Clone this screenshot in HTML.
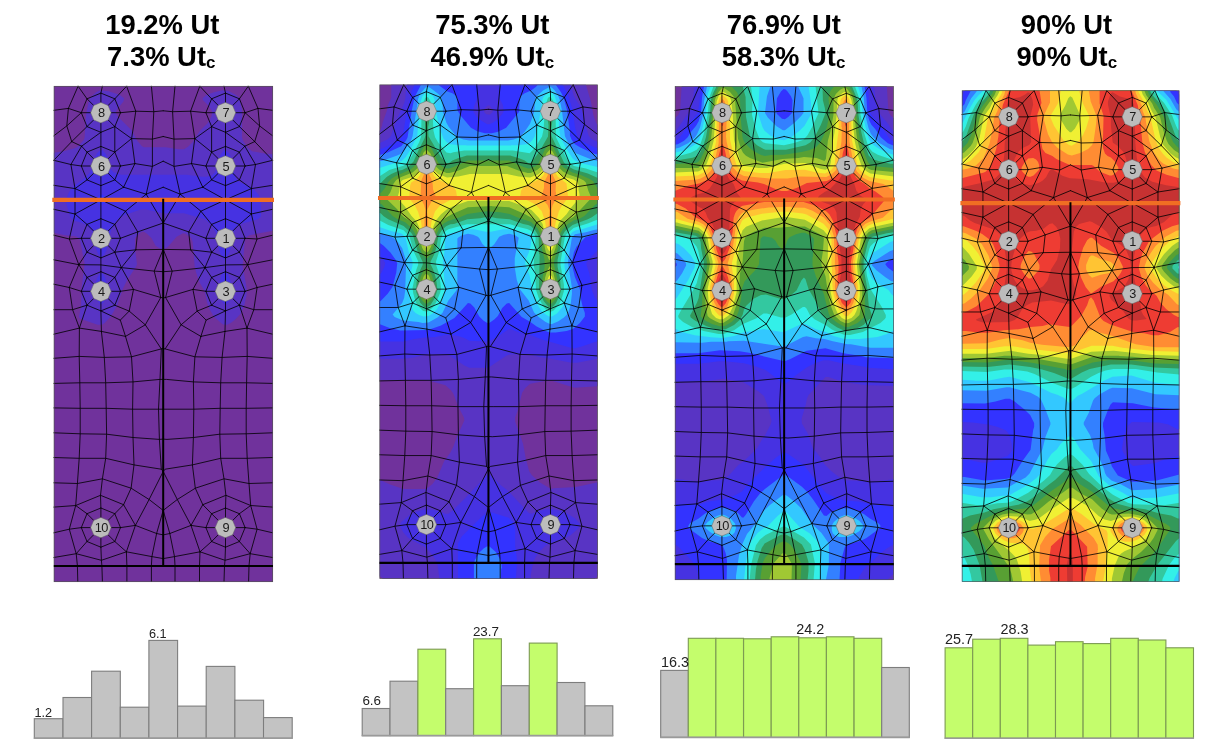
<!DOCTYPE html>
<html lang="en"><head><meta charset="utf-8"><title>Ut</title>
<style>html,body{margin:0;padding:0;background:#fff}svg{display:block}text{font-family:"Liberation Sans",Arial,sans-serif}.t{font-weight:bold;font-size:27.4px;text-anchor:middle}.s{font-size:17px}.n{font-size:12.8px;text-anchor:middle;fill:#1a1a1a;letter-spacing:-.7px}.v{font-size:12.6px;fill:#222}</style></head><body>
<svg width="1231" height="742" viewBox="0 0 1231 742">
<rect width="1231" height="742" fill="#fff"/>
<g transform="translate(53.8 86) scale(1.0000 1.0000)">
<clipPath id="cp0"><rect width="219.2" height="496"/></clipPath><g clip-path="url(#cp0)"><rect width="219.2" height="496" fill="#70329c"/><path d="M42.2 6.2 36.2 11.8 35.2 14.2 32.2 28.8 30.8 51.8 29.8 54.2 23.8 60.8 20.8 62.2 9.8 65.2 -0.2 66.8 -0.2 146.8 10.8 149.2 21.2 150.2 23.8 151.2 26.2 154.2 30.8 177.8 27.8 202.2 27.2 219.8 25.2 231.2 27.8 233.2 43.8 238.8 48.2 238.8 51.2 236.8 56.8 230.8 63.2 219.8 68.8 203.2 73.2 194.2 82.2 180.8 83.2 178.2 81.2 162.2 81.2 152.2 85.8 147.2 88.2 145.8 90.2 145.8 93.2 147.8 97.8 152.2 101.8 159.8 107.2 163.2 110.2 163.2 114.2 160.8 122.8 150.8 129.2 147.2 131.8 147.8 137.2 151.8 138.8 155.8 140.8 179.8 142.2 186.2 145.2 195.2 150.8 205.2 153.2 216.2 155.8 223.2 160.2 230.8 168.2 237.8 170.2 238.8 173.2 238.8 177.2 236.8 181.2 233.8 186.8 227.8 190.8 218.2 192.8 209.2 192.8 201.8 188.8 179.8 191.2 153.2 193.2 150.8 195.8 149.2 219.2 144.8 219.2 68.2 211.8 67.8 198.2 65.2 193.8 61.8 189.2 54.8 188.2 51.2 188.2 24.8 186.2 13.8 184.8 11.2 181.8 8.8 174.2 4.8 168.8 4.2 160.2 6.2 153.2 8.8 149.2 11.8 148.8 12.8 149.2 14.2 155.2 20.2 158.2 25.2 157.8 30.2 153.8 37.2 146.2 44.8 138.8 56.2 134.2 60.8 130.2 63.2 124.8 63.2 111.8 61.2 90.2 61.2 88.2 60.2 83.8 55.2 77.8 44.2 64.2 30.8 62.2 27.2 62.2 25.8 63.8 22.8 69.8 15.2 70.2 12.2 65.8 8.8 54.8 5.2 46.2 4.2Z" fill="#5834c4" fill-rule="evenodd"/><path d="M47.8 186.8 45.8 187.8 43.2 192.2 40.8 202.8 41.2 209.2 42.8 213.8 46.2 218.2 47.8 218.2 50.2 215.8 52.8 209.8 53.8 204.2 51.8 192.8 49.8 188.8ZM170.2 184.8 167.8 188.8 165.8 195.2 165.2 206.8 167.8 214.8 170.2 217.8 172.2 218.2 174.2 216.8 176.2 213.2 177.8 208.2 178.2 203.2 177.2 196.8 175.2 190.2 173.2 186.2 171.8 184.8ZM12.2 113.2 12.8 118.8 16.8 131.8 20.8 134.8 27.8 136.8 33.2 139.2 37.8 143.8 40.8 152.8 40.8 156.2 42.2 162.8 44.2 167.8 46.8 170.8 48.2 170.8 50.8 168.2 52.8 164.2 57.2 144.2 60.2 138.2 63.2 134.2 67.2 130.8 70.2 129.2 86.2 123.8 91.2 123.2 109.2 127.2 130.2 127.2 151.2 133.2 158.2 139.8 161.8 145.8 163.8 153.2 163.8 157.2 165.2 164.2 167.2 169.2 169.2 172.2 170.8 173.2 173.2 171.2 175.8 165.8 177.2 160.2 178.8 148.8 181.8 142.2 184.2 139.8 187.8 137.8 204.2 133.2 207.2 130.2 207.2 115.2 205.2 109.8 203.2 106.8 198.2 101.8 192.8 98.8 185.8 96.2 182.8 93.2 180.8 88.8 178.8 76.8 176.8 70.2 175.2 67.2 172.2 64.2 170.2 64.2 166.8 68.2 164.2 75.2 163.2 81.8 161.2 86.2 158.2 89.2 153.2 90.8 148.2 90.8 132.8 88.8 67.2 88.8 59.8 86.2 56.8 83.2 55.2 80.2 54.2 73.8 52.2 68.2 48.8 64.2 46.2 64.2 43.2 67.2 41.2 71.2 37.8 83.2 35.2 87.8 31.2 91.8 19.2 100.8 15.2 106.2Z" fill="#4632e2" fill-rule="evenodd"/><path d="M167.2 113.8 168.8 115.8 171.2 116.8 174.2 114.8 174.2 113.8 172.2 112.2 169.8 112.2ZM46.2 108.8 42.2 112.2 41.8 114.8 45.2 118.2 48.2 118.8 53.8 114.2 53.8 112.8 48.8 108.8Z" fill="#3333ff" fill-rule="evenodd"/></g>
<path d="M24.3 0.2L33.2 12.8M194.5 0.2L185.6 12.8M24.3 0.2L14.6 22.4M194.5 0.2L204.2 22.4M48.6 0.2L47.1 7.1M170.2 0.2L171.7 7.1M72.8 0.2L61.0 12.8M146.0 0.2L157.8 12.8M72.8 0.2L82.0 25.2M146.0 0.2L136.8 25.2M97.6 0.2L100.0 25.7L98.6 53.1L98.6 80.4L92.4 108.2M121.2 0.2L118.8 25.7L120.2 53.1L120.2 80.4L126.4 108.2M0.0 24.3L14.6 22.4L27.5 26.7M218.8 24.3L204.2 22.4L191.3 26.7M14.6 22.4L13.0 39.9L17.9 55.6M204.2 22.4L205.8 39.9L200.9 55.6M27.5 26.7L13.0 39.9L0.0 49.8M191.3 26.7L205.8 39.9L218.8 49.8M17.9 55.6L33.2 40.6M200.9 55.6L185.6 40.6M17.9 55.6L0.0 74.3M200.9 55.6L218.8 74.3M17.9 55.6L27.8 60.2M200.9 55.6L191.0 60.2M27.8 60.2L47.1 46.3M191.0 60.2L171.7 46.3M27.8 60.2L33.2 66.1M191.0 60.2L185.6 66.1M27.8 60.2L17.1 78.5M191.0 60.2L201.7 78.5M47.1 46.3L47.1 60.4M171.7 46.3L171.7 60.4M61.0 40.6L61.0 66.1M157.8 40.6L157.8 66.1M61.0 40.6L77.8 52.6M157.8 40.6L141.0 52.6M77.8 52.6L82.0 25.2L66.7 26.7M141.0 52.6L136.8 25.2L152.1 26.7M82.0 25.2L100.0 25.7L109.4 24.8M136.8 25.2L118.8 25.7L109.4 24.8M77.8 52.6L98.6 53.1L109.4 50.5M141.0 52.6L120.2 53.1L109.4 50.5M77.8 52.6L61.0 66.1M141.0 52.6L157.8 66.1M77.8 52.6L81.1 77.6M141.0 52.6L137.7 77.6M0.0 74.3L17.1 78.5L27.5 80.0M218.8 74.3L201.7 78.5L191.3 80.0M17.1 78.5L21.2 102.6L21.2 128.0L15.5 153.0L25.0 178.7M201.7 78.5L197.6 102.6L197.6 128.0L203.3 153.0L193.8 178.7M0.0 99.3L21.2 102.6L33.2 93.9M218.8 99.3L197.6 102.6L185.6 93.9M21.2 102.6L47.1 113.8M197.6 102.6L171.7 113.8M47.1 99.6L47.1 113.8L47.1 132.7M171.7 99.6L171.7 113.8L171.7 132.7M47.1 113.8L69.8 101.2M171.7 113.8L149.0 101.2M69.8 101.2L61.0 93.9M149.0 101.2L157.8 93.9M69.8 101.2L81.1 77.6M149.0 101.2L137.7 77.6M69.8 101.2L92.4 108.2M149.0 101.2L126.4 108.2M66.7 80.0L81.1 77.6L98.6 80.4L109.4 75.2M152.1 80.0L137.7 77.6L120.2 80.4L109.4 75.2M92.4 108.2L109.4 101.2M126.4 108.2L109.4 101.2M92.4 108.2L71.7 125.2M126.4 108.2L147.1 125.2M92.4 108.2L109.4 137.0M126.4 108.2L109.4 137.0M47.1 113.8L71.7 125.2M171.7 113.8L147.1 125.2M47.1 113.8L21.2 128.0M171.7 113.8L197.6 128.0M0.0 123.3L21.2 128.0M218.8 123.3L197.6 128.0M61.0 138.4L71.7 125.2L83.9 145.9M157.8 138.4L147.1 125.2L134.9 145.9M21.2 128.0L33.2 138.4M197.6 128.0L185.6 138.4M0.0 149.2L15.5 153.0L27.5 152.3M218.8 149.2L203.3 153.0L191.3 152.3M0.0 173.8L25.0 178.7L47.1 178.9L67.6 181.6L100.4 185.1L109.4 185.7M218.8 173.8L193.8 178.7L171.7 178.9L151.2 181.6L118.4 185.1L109.4 185.7M25.0 178.7L33.2 166.2M193.8 178.7L185.6 166.2M25.0 178.7L33.2 191.4M193.8 178.7L185.6 191.4M25.0 178.7L15.5 201.5M193.8 178.7L203.3 201.5M47.1 171.9L47.1 178.9L47.1 185.7M171.7 171.9L171.7 178.9L171.7 185.7M67.6 181.6L61.0 166.2M151.2 181.6L157.8 166.2M67.6 181.6L61.0 191.4M151.2 181.6L157.8 191.4M67.6 181.6L82.0 163.8M151.2 181.6L136.8 163.8M67.6 181.6L79.7 203.4M151.2 181.6L139.1 203.4M61.0 166.2L82.0 163.8L109.4 163.4M157.8 166.2L136.8 163.8L109.4 163.4M82.0 163.8L83.9 145.9M136.8 163.8L134.9 145.9M66.7 152.3L83.9 145.9L109.4 137.0M152.1 152.3L134.9 145.9L109.4 137.0M109.4 163.4L100.4 185.1L107.0 211.5M109.4 163.4L118.4 185.1L111.8 211.5M0.0 198.2L15.5 201.5L27.5 205.3M218.8 198.2L203.3 201.5L191.3 205.3M15.5 201.5L18.8 223.7L25.6 242.1M203.3 201.5L200.0 223.7L193.2 242.1M0.0 223.7L18.8 223.7L33.2 219.2M218.8 223.7L200.0 223.7L185.6 219.2M33.2 219.2L25.6 242.1M185.6 219.2L193.2 242.1M0.0 248.2L25.6 242.1L47.6 245.4L71.7 250.4M218.8 248.2L193.2 242.1L171.2 245.4L147.1 250.4M47.1 224.9L47.6 245.4M171.7 224.9L171.2 245.4M47.1 224.9L66.5 234.1L71.7 250.4M171.7 224.9L152.3 234.1L147.1 250.4M75.4 225.1L66.5 234.1M143.4 225.1L152.3 234.1M61.0 219.2L75.4 225.1L91.5 238.8M157.8 219.2L143.4 225.1L127.3 238.8M75.4 225.1L79.7 203.4M143.4 225.1L139.1 203.4M66.7 205.3L79.7 203.4L107.0 211.5L109.4 211.9M152.1 205.3L139.1 203.4L111.8 211.5L109.4 211.9M107.0 211.5L91.5 238.8L71.7 250.4M111.8 211.5L127.3 238.8L147.1 250.4M91.5 238.8L107.5 262.9M127.3 238.8L111.3 262.9M25.6 242.1L25.4 270.4L26.0 296.8L26.4 322.3L26.4 347.8L25.4 372.3L23.6 397.5L21.9 419.5L15.5 443.2L22.4 467.7L23.6 479.7L24.0 495.6M193.2 242.1L193.4 270.4L192.8 296.8L192.4 322.3L192.4 347.8L193.4 372.3L195.2 397.5L196.9 419.5L203.3 443.2L196.4 467.7L195.2 479.7L194.8 495.6M47.6 245.4L50.5 271.4L51.9 296.8L52.4 322.3L52.8 348.2L51.9 372.3L48.6 392.8L46.7 409.3L47.1 422.0M171.2 245.4L168.3 271.4L166.9 296.8L166.4 322.3L166.0 348.2L166.9 372.3L170.2 392.8L172.1 409.3L171.7 422.0M71.7 250.4L77.7 270.8L79.2 295.9L78.8 323.2L79.2 351.5L80.2 378.9L77.3 402.2L69.8 418.7L61.0 427.7M147.1 250.4L141.1 270.8L139.6 295.9L140.0 323.2L139.6 351.5L138.6 378.9L141.5 402.2L149.0 418.7L157.8 427.7M107.5 262.9L106.2 293.4L104.7 323.2L105.6 353.4L107.5 383.2M109.4 385.5L95.3 413.5L81.6 439.4M109.4 385.5L123.5 413.5L137.2 439.4M0.0 272.3L25.4 270.4L50.5 271.4L77.7 270.8L107.5 262.9L109.4 262.5M218.8 272.3L193.4 270.4L168.3 271.4L141.1 270.8L111.3 262.9L109.4 262.5M0.0 297.4L26.0 296.8L51.9 296.8L79.2 295.9L106.2 293.4L109.4 293.4M218.8 297.4L192.8 296.8L166.9 296.8L139.6 295.9L112.6 293.4L109.4 293.4M0.0 321.9L26.4 322.3L52.4 322.3L78.8 323.2L104.7 323.2L109.4 323.2M218.8 321.9L192.4 322.3L166.4 322.3L140.0 323.2L114.1 323.2L109.4 323.2M0.0 346.8L26.4 347.8L52.8 348.2L79.2 351.5L105.6 353.4L109.4 353.1M218.8 346.8L192.4 347.8L166.0 348.2L139.6 351.5L113.2 353.4L109.4 353.1M0.0 371.5L25.4 372.3L51.9 372.3L80.2 378.9L107.5 383.2L109.4 385.5M218.8 371.5L193.4 372.3L166.9 372.3L138.6 378.9L111.3 383.2L109.4 385.5M0.0 396.8L23.6 397.5L48.6 392.8L77.3 402.2L95.3 413.5L109.4 424.4M218.8 396.8L195.2 397.5L170.2 392.8L141.5 402.2L123.5 413.5L109.4 424.4M0.0 421.1L21.9 419.5L46.7 409.3L69.8 418.7M218.8 421.1L196.9 419.5L172.1 409.3L149.0 418.7M21.9 419.5L33.2 427.7M196.9 419.5L185.6 427.7M69.8 418.7L81.6 439.4M149.0 418.7L137.2 439.4M109.4 424.4L102.8 447.5M109.4 424.4L116.0 447.5M0.0 446.8L15.5 443.2L27.5 441.6M218.8 446.8L203.3 443.2L191.3 441.6M0.0 471.5L22.4 467.7L47.6 474.3L72.6 465.8L98.1 470.6L109.4 472.6M218.8 471.5L196.4 467.7L171.2 474.3L146.2 465.8L120.7 470.6L109.4 472.6M22.4 467.7L33.2 455.5M196.4 467.7L185.6 455.5M47.1 461.2L47.6 474.3L48.1 479.7L48.6 495.6M171.7 461.2L171.2 474.3L170.7 479.7L170.2 495.6M72.6 465.8L61.0 455.5M146.2 465.8L157.8 455.5M72.6 465.8L81.6 439.4M146.2 465.8L137.2 439.4M72.6 465.8L73.1 479.7L73.1 495.6M146.2 465.8L145.7 479.7L145.7 495.6M66.7 441.6L81.6 439.4L102.8 447.5L109.4 448.9M152.1 441.6L137.2 439.4L116.0 447.5L109.4 448.9M102.8 447.5L98.1 470.6L97.6 479.7L97.6 495.6M116.0 447.5L120.7 470.6L121.2 479.7L121.2 495.6M66.7 26.7L61.0 40.6L47.1 46.3L33.2 40.6L27.5 26.7L33.2 12.8L47.1 7.1L61.0 12.8L66.7 26.7M56.9 26.7L66.7 26.7M54.0 33.6L61.0 40.6M47.1 36.5L47.1 46.3M40.2 33.6L33.2 40.6M37.3 26.7L27.5 26.7M40.2 19.8L33.2 12.8M47.1 16.9L47.1 7.1M54.0 19.8L61.0 12.8M66.7 80.0L61.0 93.9L47.1 99.6L33.2 93.9L27.5 80.0L33.2 66.1L47.1 60.4L61.0 66.1L66.7 80.0M56.9 80.0L66.7 80.0M54.0 86.9L61.0 93.9M47.1 89.8L47.1 99.6M40.2 86.9L33.2 93.9M37.3 80.0L27.5 80.0M40.2 73.1L33.2 66.1M47.1 70.2L47.1 60.4M54.0 73.1L61.0 66.1M66.7 152.3L61.0 166.2L47.1 171.9L33.2 166.2L27.5 152.3L33.2 138.4L47.1 132.7L61.0 138.4L66.7 152.3M56.9 152.3L66.7 152.3M54.0 159.2L61.0 166.2M47.1 162.1L47.1 171.9M40.2 159.2L33.2 166.2M37.3 152.3L27.5 152.3M40.2 145.4L33.2 138.4M47.1 142.5L47.1 132.7M54.0 145.4L61.0 138.4M66.7 205.3L61.0 219.2L47.1 224.9L33.2 219.2L27.5 205.3L33.2 191.4L47.1 185.7L61.0 191.4L66.7 205.3M56.9 205.3L66.7 205.3M54.0 212.2L61.0 219.2M47.1 215.1L47.1 224.9M40.2 212.2L33.2 219.2M37.3 205.3L27.5 205.3M40.2 198.4L33.2 191.4M47.1 195.5L47.1 185.7M54.0 198.4L61.0 191.4M66.7 441.6L61.0 455.5L47.1 461.2L33.2 455.5L27.5 441.6L33.2 427.7L47.1 422.0L61.0 427.7L66.7 441.6M56.9 441.6L66.7 441.6M54.0 448.5L61.0 455.5M47.1 451.4L47.1 461.2M40.2 448.5L33.2 455.5M37.3 441.6L27.5 441.6M40.2 434.7L33.2 427.7M47.1 431.8L47.1 422.0M54.0 434.7L61.0 427.7M191.3 26.7L185.6 40.6L171.7 46.3L157.8 40.6L152.1 26.7L157.8 12.8L171.7 7.1L185.6 12.8L191.3 26.7M181.5 26.7L191.3 26.7M178.6 33.6L185.6 40.6M171.7 36.5L171.7 46.3M164.8 33.6L157.8 40.6M161.9 26.7L152.1 26.7M164.8 19.8L157.8 12.8M171.7 16.9L171.7 7.1M178.6 19.8L185.6 12.8M191.3 80.0L185.6 93.9L171.7 99.6L157.8 93.9L152.1 80.0L157.8 66.1L171.7 60.4L185.6 66.1L191.3 80.0M181.5 80.0L191.3 80.0M178.6 86.9L185.6 93.9M171.7 89.8L171.7 99.6M164.8 86.9L157.8 93.9M161.9 80.0L152.1 80.0M164.8 73.1L157.8 66.1M171.7 70.2L171.7 60.4M178.6 73.1L185.6 66.1M191.3 152.3L185.6 166.2L171.7 171.9L157.8 166.2L152.1 152.3L157.8 138.4L171.7 132.7L185.6 138.4L191.3 152.3M181.5 152.3L191.3 152.3M178.6 159.2L185.6 166.2M171.7 162.1L171.7 171.9M164.8 159.2L157.8 166.2M161.9 152.3L152.1 152.3M164.8 145.4L157.8 138.4M171.7 142.5L171.7 132.7M178.6 145.4L185.6 138.4M191.3 205.3L185.6 219.2L171.7 224.9L157.8 219.2L152.1 205.3L157.8 191.4L171.7 185.7L185.6 191.4L191.3 205.3M181.5 205.3L191.3 205.3M178.6 212.2L185.6 219.2M171.7 215.1L171.7 224.9M164.8 212.2L157.8 219.2M161.9 205.3L152.1 205.3M164.8 198.4L157.8 191.4M171.7 195.5L171.7 185.7M178.6 198.4L185.6 191.4M191.3 441.6L185.6 455.5L171.7 461.2L157.8 455.5L152.1 441.6L157.8 427.7L171.7 422.0L185.6 427.7L191.3 441.6M181.5 441.6L191.3 441.6M178.6 448.5L185.6 455.5M171.7 451.4L171.7 461.2M164.8 448.5L157.8 455.5M161.9 441.6L152.1 441.6M164.8 434.7L157.8 427.7M171.7 431.8L171.7 422.0M178.6 434.7L185.6 427.7" fill="none" stroke="#000" stroke-width=".95" stroke-opacity=".85" stroke-linecap="round"/>
<rect x=".3" y=".3" width="218.6" height="495.4" fill="none" stroke="#555" stroke-width=".7"/>
<path d="M-1.5 113.8H220.2" stroke="#f06e23" stroke-width="4.2" fill="none"/><path d="M109.4 112.8V480" stroke="#000" stroke-width="2" fill="none"/><path d="M0 480H219.2" stroke="#000" stroke-width="2.2" fill="none"/>
<polygon points="57.3,26.7 54.3,33.9 47.1,36.9 39.9,33.9 36.9,26.7 39.9,19.5 47.1,16.5 54.3,19.5" fill="#bcbcbc" stroke="#666" stroke-width=".5"/><polygon points="181.8,26.7 178.8,33.9 171.6,36.9 164.4,33.9 161.4,26.7 164.4,19.5 171.6,16.5 178.8,19.5" fill="#bcbcbc" stroke="#666" stroke-width=".5"/><polygon points="57.3,80.0 54.3,87.2 47.1,90.2 39.9,87.2 36.9,80.0 39.9,72.8 47.1,69.8 54.3,72.8" fill="#bcbcbc" stroke="#666" stroke-width=".5"/><polygon points="181.8,80.0 178.8,87.2 171.6,90.2 164.4,87.2 161.4,80.0 164.4,72.8 171.6,69.8 178.8,72.8" fill="#bcbcbc" stroke="#666" stroke-width=".5"/><polygon points="57.3,152.3 54.3,159.5 47.1,162.5 39.9,159.5 36.9,152.3 39.9,145.1 47.1,142.1 54.3,145.1" fill="#bcbcbc" stroke="#666" stroke-width=".5"/><polygon points="181.8,152.3 178.8,159.5 171.6,162.5 164.4,159.5 161.4,152.3 164.4,145.1 171.6,142.1 178.8,145.1" fill="#bcbcbc" stroke="#666" stroke-width=".5"/><polygon points="57.3,205.3 54.3,212.5 47.1,215.5 39.9,212.5 36.9,205.3 39.9,198.1 47.1,195.1 54.3,198.1" fill="#bcbcbc" stroke="#666" stroke-width=".5"/><polygon points="181.8,205.3 178.8,212.5 171.6,215.5 164.4,212.5 161.4,205.3 164.4,198.1 171.6,195.1 178.8,198.1" fill="#bcbcbc" stroke="#666" stroke-width=".5"/><polygon points="57.3,441.6 54.3,448.8 47.1,451.8 39.9,448.8 36.9,441.6 39.9,434.4 47.1,431.4 54.3,434.4" fill="#bcbcbc" stroke="#666" stroke-width=".5"/><polygon points="181.8,441.6 178.8,448.8 171.6,451.8 164.4,448.8 161.4,441.6 164.4,434.4 171.6,431.4 178.8,434.4" fill="#bcbcbc" stroke="#666" stroke-width=".5"/>
<text class="n" x="47.45" y="31.3">8</text><text class="n" x="171.95" y="31.3">7</text><text class="n" x="47.45" y="84.6">6</text><text class="n" x="171.95" y="84.6">5</text><text class="n" x="47.45" y="156.9">2</text><text class="n" x="171.95" y="156.9">1</text><text class="n" x="47.45" y="209.9">4</text><text class="n" x="171.95" y="209.9">3</text><text class="n" x="47.45" y="446.2">10</text><text class="n" x="171.95" y="446.2">9</text>
</g>
<text class="t" x="162.4" y="34">19.2% Ut</text>
<text class="t" x="161.3" y="66">7.3% Ut<tspan class="s" dy="2">c</tspan></text>
<g transform="translate(379.5 84.6) scale(0.9959 0.9964)">
<clipPath id="cp1"><rect width="219.2" height="496"/></clipPath><g clip-path="url(#cp1)"><rect width="219.2" height="496" fill="#70329c"/><path d="M11.8 -0.2 11.8 13.2 8.8 19.8 7.2 26.8 2.8 39.2 2.8 40.8 0.8 45.8 -0.2 46.2 -0.2 296.8 45.8 296.8 52.2 297.8 66.2 301.8 71.8 306.8 74.2 310.2 79.2 323.2 84.8 334.2 85.2 337.2 78.2 352.2 74.2 363.2 71.2 369.2 64.8 378.2 57.8 394.8 53.2 400.8 49.2 404.2 46.2 405.8 23.8 405.8 10.2 401.2 1.2 397.2 -0.2 397.2 -0.2 493.8 1.8 494.2 3.2 496.2 216.2 496.2 218.2 493.8 219.2 493.8 219.2 399.2 197.2 403.8 174.2 405.2 173.8 405.8 170.8 405.2 160.8 399.2 152.8 391.8 150.2 387.8 146.8 374.8 144.2 360.8 136.2 338.2 136.2 334.2 138.8 327.2 143.2 309.2 146.2 304.8 151.2 300.2 167.8 297.2 173.2 297.2 195.8 304.2 219.2 302.8 219.2 40.2 217.8 39.2 214.8 30.8 212.2 16.8 207.2 -0.2Z" fill="#5834c4" fill-rule="evenodd"/><path d="M201.2 440.8 196.2 435.2 188.2 430.2 179.2 427.2 174.2 426.2 168.2 426.2 160.2 427.8 152.8 430.8 150.2 430.2 128.2 406.8 121.8 402.2 110.8 391.2 108.8 390.8 86.2 414.8 74.2 426.8 69.2 430.8 66.2 430.8 60.2 428.2 53.8 426.8 45.2 426.2 36.8 428.8 29.8 432.2 21.8 439.2 20.2 442.8 24.2 449.8 28.2 454.2 31.8 456.8 46.2 464.2 52.2 470.8 56.2 476.8 58.2 481.2 60.2 496.2 151.8 496.2 151.8 492.2 154.2 479.8 156.2 475.2 160.2 469.2 166.2 463.2 169.2 461.2 183.2 456.8 191.8 452.2 198.8 446.2 201.2 442.8ZM27.8 -0.2 26.2 8.2 26.2 12.8 24.8 18.8 17.8 33.8 11.8 50.8 10.2 53.2 7.8 55.2 -0.2 58.8 -0.2 275.2 23.2 275.2 34.2 273.8 46.8 270.8 67.2 270.8 70.8 272.2 85.2 281.8 90.2 284.2 108.2 284.2 110.8 283.2 127.2 272.2 130.8 270.8 151.2 270.8 159.8 273.2 170.8 274.8 192.8 279.2 198.2 279.2 219.2 275.2 219.2 57.2 217.8 57.2 212.2 54.2 209.8 50.8 203.2 25.8 201.2 21.2 195.2 11.8 191.8 -0.2ZM109.2 20.8 110.8 21.2 113.8 25.2 113.8 27.2 110.8 30.2 107.2 29.8 105.2 27.8 104.8 26.2 105.8 23.8Z" fill="#4632e2" fill-rule="evenodd"/><path d="M161.8 441.8 163.8 445.2 168.8 447.8 175.2 447.2 178.2 445.8 181.2 442.2 180.8 440.2 178.8 438.2 173.2 435.8 168.2 436.2 164.2 438.2 162.2 440.2ZM37.8 441.8 38.2 443.2 41.2 446.2 45.8 448.2 51.2 447.8 54.2 446.2 56.8 443.2 56.8 440.8 53.8 437.8 48.8 435.8 45.8 435.8 42.8 436.8 40.2 438.2ZM129.8 434.8 111.8 429.2 109.2 429.2 103.2 433.2 82.8 453.2 78.8 460.2 78.8 496.2 136.8 496.2 138.2 478.2 136.2 462.8 136.2 443.8 134.2 439.2ZM34.8 -0.2 34.8 1.2 32.2 6.8 26.8 30.8 24.2 46.8 22.2 52.8 19.8 55.2 15.8 57.8 3.8 63.8 -0.2 64.8 -0.2 172.8 1.2 173.2 4.2 176.2 5.8 179.2 4.8 183.2 1.8 189.2 -0.2 190.8 -0.2 257.8 24.2 257.8 34.8 255.2 45.8 253.8 55.8 253.2 66.2 251.2 72.8 251.2 79.2 252.2 85.2 254.2 90.2 257.2 108.8 257.8 116.8 254.2 129.8 245.2 132.8 245.8 141.2 249.2 150.2 250.8 163.2 255.8 194.8 264.8 202.2 263.2 217.8 257.8 219.2 257.8 219.2 216.8 216.2 213.8 213.2 206.2 210.8 189.8 207.8 180.8 207.8 178.8 209.2 176.2 219.2 166.2 219.2 63.8 216.2 63.2 207.2 58.8 200.2 54.2 198.8 52.2 196.2 42.2 193.8 24.8 188.8 9.2 183.8 -0.2 119.8 -0.2 119.8 10.8 120.2 13.2 123.8 20.2 124.8 26.8 123.2 29.8 119.2 34.2 113.8 38.2 110.2 39.8 108.2 39.8 100.8 35.2 97.2 31.8 94.2 27.2 94.8 21.8 98.8 12.8 98.8 -0.2Z" fill="#3333ff" fill-rule="evenodd"/><path d="M110.2 463.2 108.2 463.2 104.8 465.2 99.8 470.2 95.8 477.2 94.8 480.2 94.8 496.2 121.8 496.2 122.2 485.8 122.8 485.2 122.2 478.2 116.8 469.2ZM41.8 -0.2 35.2 12.8 32.2 27.2 28.2 52.8 26.8 55.8 21.8 61.8 8.2 68.2 -0.2 70.8 -0.2 159.2 0.8 159.2 4.2 161.8 11.2 168.8 16.2 175.8 17.8 179.2 16.8 188.8 13.2 202.8 8.2 209.8 1.2 217.2 -0.2 217.8 -0.2 240.2 10.2 244.2 20.8 246.8 48.8 246.2 61.8 241.8 75.2 234.2 88.8 219.2 91.2 219.8 95.2 223.8 100.2 232.8 104.2 236.8 108.2 239.2 110.2 239.2 115.2 235.8 118.8 232.2 123.2 224.2 127.8 219.8 130.2 219.2 142.8 233.2 150.8 237.8 157.8 242.8 166.8 247.2 171.2 248.8 176.8 248.8 187.8 247.2 194.2 245.2 201.2 239.2 206.2 232.8 206.2 229.2 203.8 222.2 202.2 214.8 201.2 205.2 196.2 193.2 193.8 182.8 193.8 175.2 195.2 168.2 197.8 162.8 206.8 153.2 219.2 149.8 219.2 70.2 214.8 69.2 201.8 63.2 196.2 59.8 192.8 55.2 191.2 51.2 191.2 47.2 188.2 25.2 184.8 12.8 182.2 7.8 176.8 -0.2 159.2 -0.2 157.2 2.2 152.2 5.8 145.8 8.8 142.2 11.2 140.8 13.8 140.2 27.2 127.2 43.2 119.2 47.2 112.8 48.8 105.8 48.8 98.2 46.8 91.8 43.2 81.2 30.8 78.2 25.8 78.2 13.8 76.8 11.2 73.2 8.8 68.2 6.8 60.2 1.2 59.2 -0.2Z" fill="#3380ff" fill-rule="evenodd"/><path d="M46.2 2.8 40.8 9.2 38.8 14.2 33.2 51.8 31.8 55.8 27.2 63.2 22.8 68.8 17.8 71.2 2.2 76.8 -0.2 76.8 -0.2 149.2 1.8 149.2 9.8 151.8 13.8 153.8 18.2 157.8 22.8 164.2 26.8 177.2 25.8 206.8 24.8 213.8 22.8 219.2 13.2 230.8 15.2 233.2 23.8 236.8 39.2 238.2 43.2 239.2 49.2 238.8 58.2 233.8 63.2 229.2 69.2 216.8 76.8 207.2 78.2 204.2 78.2 154.8 78.8 153.8 82.8 151.2 88.8 149.8 94.2 150.8 98.8 152.8 100.2 154.2 103.2 159.8 107.2 163.8 110.8 164.2 115.2 160.2 120.2 152.8 124.8 150.8 130.2 149.8 136.2 151.2 139.8 153.8 135.8 174.2 135.8 183.2 137.8 195.8 140.8 205.2 149.8 216.8 155.2 228.8 159.8 233.2 166.8 238.2 171.2 240.2 173.2 240.2 179.2 237.8 185.2 233.8 188.2 230.8 189.8 228.2 191.8 221.8 193.2 209.8 193.2 203.8 189.2 178.2 193.2 153.8 196.2 150.2 207.2 148.2 215.2 145.8 219.2 145.2 219.2 76.8 212.8 75.2 197.2 68.8 193.8 65.2 190.8 60.8 186.2 51.8 183.2 25.8 180.8 14.8 179.2 10.8 176.2 6.2 173.2 3.2 171.2 2.2 164.2 5.8 156.8 12.8 155.8 17.2 155.8 23.2 154.8 29.2 151.2 39.2 145.8 47.2 140.8 52.8 134.8 55.2 128.8 56.2 90.2 56.2 84.2 55.2 78.2 52.8 69.8 42.8 67.2 38.2 63.8 27.8 63.2 17.8 61.8 12.2 58.2 8.8 50.8 3.2 48.2 2.2Z" fill="#33c8ff" fill-rule="evenodd"/><path d="M45.8 8.2 42.8 12.2 40.8 19.8 37.8 52.2 30.2 66.8 26.2 72.8 22.2 76.8 -0.2 83.8 -0.2 142.8 12.2 147.2 21.2 149.2 23.2 150.2 26.2 153.8 29.2 167.2 33.2 177.8 33.2 181.2 31.8 186.8 29.8 201.2 29.8 210.8 30.8 218.8 31.8 222.8 33.8 226.8 36.2 229.2 39.8 231.2 44.2 232.8 49.2 232.2 53.2 229.8 57.8 225.2 62.8 216.2 65.8 205.8 63.8 176.8 65.2 167.8 65.8 153.8 68.2 150.2 86.8 145.2 94.8 145.2 106.8 147.8 111.8 147.8 124.2 145.2 132.2 145.2 144.8 148.8 148.8 149.2 150.8 150.2 152.8 152.8 151.8 161.8 149.8 168.8 146.8 175.8 146.2 179.8 150.8 191.8 154.2 210.2 157.2 218.8 162.8 227.2 166.8 230.8 170.2 232.8 173.2 232.8 178.2 229.8 183.8 223.2 186.2 218.2 189.2 206.8 188.8 199.8 185.8 182.8 185.8 175.8 189.8 152.8 194.2 147.8 197.2 146.2 203.2 145.2 219.2 140.2 219.2 82.8 205.8 79.8 196.2 76.2 193.8 73.8 188.8 66.2 181.8 53.2 180.2 41.8 179.8 28.2 178.2 18.8 175.8 11.2 172.2 7.8 168.8 8.2 164.8 12.2 163.8 14.2 160.2 36.2 155.8 52.2 153.2 56.2 151.2 58.2 147.8 59.8 139.2 60.8 132.2 60.8 131.8 61.2 87.2 61.2 86.8 60.8 79.8 60.8 71.2 59.8 67.8 58.2 64.2 54.2 60.8 44.8 57.2 29.8 55.2 14.8 53.8 11.8 51.2 9.2 48.8 7.8Z" fill="#33f0e8" fill-rule="evenodd"/><path d="M172.2 12.8 171.2 12.2 169.2 13.2 166.2 21.8 164.8 44.8 163.2 52.2 155.8 63.8 150.8 68.8 133.8 66.2 85.2 66.2 74.2 67.8 71.2 68.8 67.2 68.2 58.8 57.8 55.8 52.8 54.2 46.2 53.2 27.8 51.2 16.8 48.8 12.8 46.8 12.8 45.8 13.8 43.8 18.8 42.2 28.2 41.8 52.2 39.8 57.8 32.8 71.2 28.8 77.2 24.8 81.2 9.8 85.8 -0.2 92.2 -0.2 136.2 8.8 140.8 24.2 146.2 30.2 152.8 34.2 167.2 38.8 177.2 38.8 180.8 36.8 186.2 33.2 203.8 33.8 209.2 36.2 217.8 38.2 221.8 43.8 227.2 48.2 227.8 50.2 226.8 53.8 223.2 56.8 218.8 60.8 209.2 61.8 204.8 61.2 199.2 59.2 188.2 56.8 180.8 56.8 177.2 60.2 166.8 61.8 154.8 63.2 150.8 66.8 146.8 69.2 145.2 87.8 140.2 131.2 140.2 140.8 143.2 148.2 144.8 152.2 146.8 155.8 150.8 156.8 153.8 154.8 180.8 156.2 189.2 157.2 206.2 159.8 213.8 164.2 222.2 167.2 225.8 170.2 227.8 172.8 227.8 174.8 226.8 179.8 221.2 182.8 215.2 185.2 207.2 185.2 200.8 181.8 180.8 181.8 177.8 186.2 152.8 187.2 150.8 194.8 143.8 209.8 139.2 217.8 135.8 219.2 135.8 219.2 88.2 207.2 84.2 195.2 81.8 190.2 77.2 187.2 72.8 177.2 52.8 176.8 27.8 174.8 17.2Z" fill="#33c8a0" fill-rule="evenodd"/><path d="M171.2 21.2 169.8 23.8 168.8 29.8 168.8 35.2 169.8 40.8 169.2 52.2 160.2 67.8 151.8 78.8 149.2 78.8 145.8 76.2 140.2 73.8 131.2 71.2 87.8 71.2 78.8 73.8 73.2 76.2 69.8 78.8 67.2 78.8 61.2 71.8 49.2 51.8 48.8 42.8 49.8 37.8 49.8 27.2 48.2 22.2 47.2 21.8 46.2 22.8 45.2 26.8 46.2 50.8 45.2 54.2 39.2 65.8 34.2 77.2 28.8 82.8 22.8 85.8 19.8 86.2 11.8 89.8 7.2 92.8 -0.2 100.2 -0.2 128.8 1.2 129.2 4.2 132.2 8.8 135.2 24.2 141.8 31.8 148.8 33.8 151.8 38.2 167.2 43.8 178.8 43.2 181.2 40.8 186.2 37.2 198.2 36.8 208.2 40.8 218.8 44.8 223.2 47.8 223.8 51.2 221.2 55.2 214.8 58.2 205.8 56.8 194.8 53.8 185.2 51.2 180.2 51.2 177.8 54.8 170.8 56.8 164.8 59.2 151.8 62.2 146.8 66.8 142.2 71.2 140.2 74.8 139.8 88.2 135.2 101.2 134.2 105.8 133.2 113.2 133.2 117.8 134.2 130.8 135.2 144.2 139.8 149.2 140.8 152.2 142.2 156.2 146.2 159.8 152.2 160.2 169.8 160.8 170.2 160.2 204.2 161.2 208.8 164.8 217.2 169.8 223.2 172.2 223.8 174.2 222.8 177.2 219.2 180.2 213.2 182.2 206.8 181.2 194.2 178.8 182.8 178.8 175.8 181.8 163.2 183.2 152.2 186.2 147.2 193.8 140.8 209.2 135.2 213.2 133.2 219.2 128.8 219.2 93.8 209.2 89.2 195.2 85.2 188.8 81.8 185.2 78.2 172.8 51.8 172.2 45.8 173.8 35.8 173.8 27.8 172.8 23.2Z" fill="#33995a" fill-rule="evenodd"/><path d="M46.2 184.2 44.2 186.8 41.2 193.2 38.8 205.2 40.8 212.8 42.8 216.8 45.8 219.8 48.2 219.8 51.2 216.8 53.2 213.2 55.2 207.8 55.8 204.2 52.8 191.8 49.2 185.2 48.2 184.2ZM219.2 103.8 217.8 102.8 214.8 97.2 211.2 94.8 202.2 90.8 193.8 88.2 184.8 83.2 182.2 80.8 180.2 76.8 179.2 72.8 174.8 62.8 171.2 59.2 168.2 61.8 166.2 64.8 159.8 78.8 156.8 81.8 151.8 84.2 149.2 84.2 144.8 82.8 130.2 76.2 88.8 76.2 74.2 82.8 69.8 84.2 67.2 84.2 62.2 81.8 58.8 78.2 52.8 65.2 49.2 60.2 46.8 59.8 44.8 61.8 41.8 67.2 36.8 80.2 31.2 85.2 16.2 91.8 12.2 94.2 8.8 97.8 5.2 104.2 1.8 108.2 -0.2 109.2 -0.2 119.2 2.2 120.2 13.2 131.8 17.8 134.8 25.8 138.2 32.2 143.8 36.8 151.2 40.2 164.2 43.2 170.2 46.8 174.2 47.8 174.2 50.2 171.8 52.2 168.2 54.2 163.2 56.8 150.8 60.8 143.2 64.8 139.2 68.8 136.8 80.8 133.2 88.2 129.8 107.2 127.2 121.2 128.2 130.8 129.8 138.2 133.2 152.2 137.8 158.8 144.2 162.2 151.8 163.2 164.8 165.8 175.8 165.8 183.2 163.2 197.2 163.2 206.8 165.8 213.8 168.2 217.8 170.8 219.8 172.8 219.8 175.8 216.8 178.2 211.8 179.8 206.8 179.8 200.8 175.2 180.8 175.2 177.2 178.8 165.2 181.2 150.2 184.2 144.8 189.2 139.8 195.2 136.2 200.2 134.8 205.8 131.8 216.2 120.8 219.2 119.2Z" fill="#58a033" fill-rule="evenodd"/><path d="M46.2 190.2 44.2 192.8 41.2 201.8 41.2 207.2 44.2 214.2 45.8 215.8 47.8 216.2 50.2 213.8 53.2 206.8 53.2 202.2 49.8 192.2 48.8 190.8ZM170.8 182.2 168.2 187.2 166.2 194.2 165.2 205.8 167.8 212.8 170.2 215.8 172.2 216.2 174.8 213.8 176.8 209.8 177.8 206.2 177.8 201.8 173.8 186.2 172.2 182.8ZM7.2 113.2 8.2 115.8 17.8 125.2 20.2 128.8 24.8 133.2 30.8 136.8 34.8 140.8 37.8 146.2 42.8 163.8 44.2 166.2 47.2 168.8 49.2 167.2 51.8 162.8 56.8 143.8 59.8 138.8 64.2 134.8 73.2 129.8 88.8 123.2 112.8 121.8 113.2 122.2 130.2 123.2 145.8 129.8 154.8 134.8 160.2 140.2 162.2 144.2 164.8 153.2 164.8 157.8 166.8 167.2 170.2 175.8 171.8 176.2 173.2 173.8 176.8 163.8 178.8 151.2 181.8 142.8 187.2 136.8 194.8 132.8 211.8 114.8 212.2 112.2 209.8 106.8 207.2 98.2 205.2 96.2 200.2 93.8 189.8 90.2 184.2 87.2 180.2 83.2 178.2 79.2 175.8 70.8 173.8 67.2 171.2 65.2 167.8 68.8 164.2 78.2 161.8 82.8 158.2 85.8 151.8 88.8 148.8 88.8 140.8 86.8 128.2 81.8 90.8 81.8 78.2 86.8 70.2 88.8 67.2 88.8 59.8 85.2 56.2 81.8 51.2 69.2 47.2 65.2 44.2 68.2 40.2 79.8 37.8 84.2 33.2 88.2 21.8 92.8 16.8 95.8 14.2 99.2 10.8 108.2Z" fill="#a0c833" fill-rule="evenodd"/><path d="M46.8 195.2 45.2 196.8 43.8 200.2 43.2 207.2 45.2 211.2 46.2 212.2 47.8 212.2 50.2 209.2 51.2 206.2 51.2 202.8 48.8 196.2ZM171.2 191.2 169.8 192.8 168.2 196.8 167.2 205.2 169.8 211.2 170.8 212.2 172.2 212.2 175.2 207.8 175.8 202.2 173.8 194.2 172.8 192.2ZM18.2 112.8 19.2 115.2 25.2 121.8 32.2 131.8 37.2 137.2 39.8 143.2 43.2 158.8 45.8 163.2 47.8 163.8 50.2 160.2 52.2 153.8 54.2 142.2 56.8 136.2 61.8 130.2 67.8 125.2 73.8 122.2 88.8 116.8 119.8 116.2 120.2 116.8 130.2 116.8 145.2 122.2 152.8 126.2 160.2 133.8 163.8 139.8 166.2 150.2 166.8 156.8 168.2 163.2 169.8 166.2 171.8 167.8 174.2 163.8 175.8 159.2 177.2 148.8 179.8 139.8 181.8 136.2 187.8 130.2 191.8 124.2 200.8 113.8 200.8 109.8 199.8 105.2 199.8 100.8 198.8 97.8 194.8 95.2 187.2 93.2 183.2 91.2 178.8 86.2 176.2 80.8 174.8 75.2 171.8 70.8 170.2 71.2 168.8 73.2 165.2 83.2 162.2 87.8 159.2 90.2 151.2 93.2 139.8 92.2 128.2 89.8 90.8 89.8 79.2 92.2 67.8 93.2 58.8 89.8 55.2 86.2 53.2 82.8 49.2 72.2 47.2 70.8 44.8 73.2 41.2 83.8 38.2 88.8 32.8 92.8 23.2 95.8 20.8 98.2 19.8 107.2Z" fill="#f0f033" fill-rule="evenodd"/><path d="M46.8 201.2 45.2 205.2 45.8 206.8 47.8 207.8 48.8 206.2 48.8 203.2 47.8 201.2ZM170.8 199.2 169.8 202.2 169.8 205.8 171.2 207.8 172.2 207.8 173.2 206.2 173.2 201.8 172.2 199.2ZM171.2 77.2 169.2 79.8 164.8 90.8 160.8 94.8 145.2 102.2 142.2 106.2 141.2 112.2 143.2 114.2 148.8 116.2 156.2 120.2 162.8 126.8 166.2 136.8 169.2 157.8 170.2 160.2 171.8 161.2 174.2 156.2 176.8 138.8 180.2 127.2 182.8 122.2 188.8 114.2 189.2 111.2 187.8 99.2 178.8 92.2 176.8 88.8 172.8 78.2ZM47.8 77.2 46.2 77.8 40.2 91.8 36.8 95.2 31.8 98.2 30.8 101.2 29.8 112.8 30.8 115.2 35.8 121.8 38.8 127.8 41.8 138.2 43.8 153.2 45.2 157.2 46.8 158.8 48.2 158.2 50.2 153.2 52.2 137.8 55.8 127.2 61.2 121.2 70.2 116.2 75.8 114.2 77.8 112.2 76.8 106.2 73.8 102.2 58.2 94.8 54.8 91.8Z" fill="#ffc433" fill-rule="evenodd"/><path d="M171.2 85.8 169.2 88.8 168.8 91.2 165.2 98.2 165.2 103.8 162.2 113.2 168.8 120.8 170.8 126.2 169.8 144.8 170.2 149.2 171.8 151.8 173.2 147.2 172.8 124.8 173.8 121.2 177.2 114.8 177.2 107.8 176.8 107.2 177.2 97.2 174.8 92.8 172.8 86.8ZM47.8 85.8 46.2 86.2 41.2 98.2 41.8 100.2 41.2 113.8 44.8 120.8 46.2 125.8 45.2 135.8 45.2 147.2 46.8 151.8 48.2 150.2 48.8 147.2 48.8 134.8 47.8 128.2 48.2 125.2 51.8 118.2 56.2 113.8 56.2 111.2 53.8 105.2 53.2 97.2Z" fill="#ff8c33" fill-rule="evenodd"/></g>
<path d="M24.3 0.2L33.2 12.8M194.5 0.2L185.6 12.8M24.3 0.2L14.6 22.4M194.5 0.2L204.2 22.4M48.6 0.2L47.1 7.1M170.2 0.2L171.7 7.1M72.8 0.2L61.0 12.8M146.0 0.2L157.8 12.8M72.8 0.2L82.0 25.2M146.0 0.2L136.8 25.2M97.6 0.2L100.0 25.7L98.6 53.1L98.6 80.4L92.4 108.2M121.2 0.2L118.8 25.7L120.2 53.1L120.2 80.4L126.4 108.2M0.0 24.3L14.6 22.4L27.5 26.7M218.8 24.3L204.2 22.4L191.3 26.7M14.6 22.4L13.0 39.9L17.9 55.6M204.2 22.4L205.8 39.9L200.9 55.6M27.5 26.7L13.0 39.9L0.0 49.8M191.3 26.7L205.8 39.9L218.8 49.8M17.9 55.6L33.2 40.6M200.9 55.6L185.6 40.6M17.9 55.6L0.0 74.3M200.9 55.6L218.8 74.3M17.9 55.6L27.8 60.2M200.9 55.6L191.0 60.2M27.8 60.2L47.1 46.3M191.0 60.2L171.7 46.3M27.8 60.2L33.2 66.1M191.0 60.2L185.6 66.1M27.8 60.2L17.1 78.5M191.0 60.2L201.7 78.5M47.1 46.3L47.1 60.4M171.7 46.3L171.7 60.4M61.0 40.6L61.0 66.1M157.8 40.6L157.8 66.1M61.0 40.6L77.8 52.6M157.8 40.6L141.0 52.6M77.8 52.6L82.0 25.2L66.7 26.7M141.0 52.6L136.8 25.2L152.1 26.7M82.0 25.2L100.0 25.7L109.4 24.8M136.8 25.2L118.8 25.7L109.4 24.8M77.8 52.6L98.6 53.1L109.4 50.5M141.0 52.6L120.2 53.1L109.4 50.5M77.8 52.6L61.0 66.1M141.0 52.6L157.8 66.1M77.8 52.6L81.1 77.6M141.0 52.6L137.7 77.6M0.0 74.3L17.1 78.5L27.5 80.0M218.8 74.3L201.7 78.5L191.3 80.0M17.1 78.5L21.2 102.6L21.2 128.0L15.5 153.0L25.0 178.7M201.7 78.5L197.6 102.6L197.6 128.0L203.3 153.0L193.8 178.7M0.0 99.3L21.2 102.6L33.2 93.9M218.8 99.3L197.6 102.6L185.6 93.9M21.2 102.6L47.1 113.8M197.6 102.6L171.7 113.8M47.1 99.6L47.1 113.8L47.1 132.7M171.7 99.6L171.7 113.8L171.7 132.7M47.1 113.8L69.8 101.2M171.7 113.8L149.0 101.2M69.8 101.2L61.0 93.9M149.0 101.2L157.8 93.9M69.8 101.2L81.1 77.6M149.0 101.2L137.7 77.6M69.8 101.2L92.4 108.2M149.0 101.2L126.4 108.2M66.7 80.0L81.1 77.6L98.6 80.4L109.4 75.2M152.1 80.0L137.7 77.6L120.2 80.4L109.4 75.2M92.4 108.2L109.4 101.2M126.4 108.2L109.4 101.2M92.4 108.2L71.7 125.2M126.4 108.2L147.1 125.2M92.4 108.2L109.4 137.0M126.4 108.2L109.4 137.0M47.1 113.8L71.7 125.2M171.7 113.8L147.1 125.2M47.1 113.8L21.2 128.0M171.7 113.8L197.6 128.0M0.0 123.3L21.2 128.0M218.8 123.3L197.6 128.0M61.0 138.4L71.7 125.2L83.9 145.9M157.8 138.4L147.1 125.2L134.9 145.9M21.2 128.0L33.2 138.4M197.6 128.0L185.6 138.4M0.0 149.2L15.5 153.0L27.5 152.3M218.8 149.2L203.3 153.0L191.3 152.3M0.0 173.8L25.0 178.7L47.1 178.9L67.6 181.6L100.4 185.1L109.4 185.7M218.8 173.8L193.8 178.7L171.7 178.9L151.2 181.6L118.4 185.1L109.4 185.7M25.0 178.7L33.2 166.2M193.8 178.7L185.6 166.2M25.0 178.7L33.2 191.4M193.8 178.7L185.6 191.4M25.0 178.7L15.5 201.5M193.8 178.7L203.3 201.5M47.1 171.9L47.1 178.9L47.1 185.7M171.7 171.9L171.7 178.9L171.7 185.7M67.6 181.6L61.0 166.2M151.2 181.6L157.8 166.2M67.6 181.6L61.0 191.4M151.2 181.6L157.8 191.4M67.6 181.6L82.0 163.8M151.2 181.6L136.8 163.8M67.6 181.6L79.7 203.4M151.2 181.6L139.1 203.4M61.0 166.2L82.0 163.8L109.4 163.4M157.8 166.2L136.8 163.8L109.4 163.4M82.0 163.8L83.9 145.9M136.8 163.8L134.9 145.9M66.7 152.3L83.9 145.9L109.4 137.0M152.1 152.3L134.9 145.9L109.4 137.0M109.4 163.4L100.4 185.1L107.0 211.5M109.4 163.4L118.4 185.1L111.8 211.5M0.0 198.2L15.5 201.5L27.5 205.3M218.8 198.2L203.3 201.5L191.3 205.3M15.5 201.5L18.8 223.7L25.6 242.1M203.3 201.5L200.0 223.7L193.2 242.1M0.0 223.7L18.8 223.7L33.2 219.2M218.8 223.7L200.0 223.7L185.6 219.2M33.2 219.2L25.6 242.1M185.6 219.2L193.2 242.1M0.0 248.2L25.6 242.1L47.6 245.4L71.7 250.4M218.8 248.2L193.2 242.1L171.2 245.4L147.1 250.4M47.1 224.9L47.6 245.4M171.7 224.9L171.2 245.4M47.1 224.9L66.5 234.1L71.7 250.4M171.7 224.9L152.3 234.1L147.1 250.4M75.4 225.1L66.5 234.1M143.4 225.1L152.3 234.1M61.0 219.2L75.4 225.1L91.5 238.8M157.8 219.2L143.4 225.1L127.3 238.8M75.4 225.1L79.7 203.4M143.4 225.1L139.1 203.4M66.7 205.3L79.7 203.4L107.0 211.5L109.4 211.9M152.1 205.3L139.1 203.4L111.8 211.5L109.4 211.9M107.0 211.5L91.5 238.8L71.7 250.4M111.8 211.5L127.3 238.8L147.1 250.4M91.5 238.8L107.5 262.9M127.3 238.8L111.3 262.9M25.6 242.1L25.4 270.4L26.0 296.8L26.4 322.3L26.4 347.8L25.4 372.3L23.6 397.5L21.9 419.5L15.5 443.2L22.4 467.7L23.6 479.7L24.0 495.6M193.2 242.1L193.4 270.4L192.8 296.8L192.4 322.3L192.4 347.8L193.4 372.3L195.2 397.5L196.9 419.5L203.3 443.2L196.4 467.7L195.2 479.7L194.8 495.6M47.6 245.4L50.5 271.4L51.9 296.8L52.4 322.3L52.8 348.2L51.9 372.3L48.6 392.8L46.7 409.3L47.1 422.0M171.2 245.4L168.3 271.4L166.9 296.8L166.4 322.3L166.0 348.2L166.9 372.3L170.2 392.8L172.1 409.3L171.7 422.0M71.7 250.4L77.7 270.8L79.2 295.9L78.8 323.2L79.2 351.5L80.2 378.9L77.3 402.2L69.8 418.7L61.0 427.7M147.1 250.4L141.1 270.8L139.6 295.9L140.0 323.2L139.6 351.5L138.6 378.9L141.5 402.2L149.0 418.7L157.8 427.7M107.5 262.9L106.2 293.4L104.7 323.2L105.6 353.4L107.5 383.2M109.4 385.5L95.3 413.5L81.6 439.4M109.4 385.5L123.5 413.5L137.2 439.4M0.0 272.3L25.4 270.4L50.5 271.4L77.7 270.8L107.5 262.9L109.4 262.5M218.8 272.3L193.4 270.4L168.3 271.4L141.1 270.8L111.3 262.9L109.4 262.5M0.0 297.4L26.0 296.8L51.9 296.8L79.2 295.9L106.2 293.4L109.4 293.4M218.8 297.4L192.8 296.8L166.9 296.8L139.6 295.9L112.6 293.4L109.4 293.4M0.0 321.9L26.4 322.3L52.4 322.3L78.8 323.2L104.7 323.2L109.4 323.2M218.8 321.9L192.4 322.3L166.4 322.3L140.0 323.2L114.1 323.2L109.4 323.2M0.0 346.8L26.4 347.8L52.8 348.2L79.2 351.5L105.6 353.4L109.4 353.1M218.8 346.8L192.4 347.8L166.0 348.2L139.6 351.5L113.2 353.4L109.4 353.1M0.0 371.5L25.4 372.3L51.9 372.3L80.2 378.9L107.5 383.2L109.4 385.5M218.8 371.5L193.4 372.3L166.9 372.3L138.6 378.9L111.3 383.2L109.4 385.5M0.0 396.8L23.6 397.5L48.6 392.8L77.3 402.2L95.3 413.5L109.4 424.4M218.8 396.8L195.2 397.5L170.2 392.8L141.5 402.2L123.5 413.5L109.4 424.4M0.0 421.1L21.9 419.5L46.7 409.3L69.8 418.7M218.8 421.1L196.9 419.5L172.1 409.3L149.0 418.7M21.9 419.5L33.2 427.7M196.9 419.5L185.6 427.7M69.8 418.7L81.6 439.4M149.0 418.7L137.2 439.4M109.4 424.4L102.8 447.5M109.4 424.4L116.0 447.5M0.0 446.8L15.5 443.2L27.5 441.6M218.8 446.8L203.3 443.2L191.3 441.6M0.0 471.5L22.4 467.7L47.6 474.3L72.6 465.8L98.1 470.6L109.4 472.6M218.8 471.5L196.4 467.7L171.2 474.3L146.2 465.8L120.7 470.6L109.4 472.6M22.4 467.7L33.2 455.5M196.4 467.7L185.6 455.5M47.1 461.2L47.6 474.3L48.1 479.7L48.6 495.6M171.7 461.2L171.2 474.3L170.7 479.7L170.2 495.6M72.6 465.8L61.0 455.5M146.2 465.8L157.8 455.5M72.6 465.8L81.6 439.4M146.2 465.8L137.2 439.4M72.6 465.8L73.1 479.7L73.1 495.6M146.2 465.8L145.7 479.7L145.7 495.6M66.7 441.6L81.6 439.4L102.8 447.5L109.4 448.9M152.1 441.6L137.2 439.4L116.0 447.5L109.4 448.9M102.8 447.5L98.1 470.6L97.6 479.7L97.6 495.6M116.0 447.5L120.7 470.6L121.2 479.7L121.2 495.6M66.7 26.7L61.0 40.6L47.1 46.3L33.2 40.6L27.5 26.7L33.2 12.8L47.1 7.1L61.0 12.8L66.7 26.7M56.9 26.7L66.7 26.7M54.0 33.6L61.0 40.6M47.1 36.5L47.1 46.3M40.2 33.6L33.2 40.6M37.3 26.7L27.5 26.7M40.2 19.8L33.2 12.8M47.1 16.9L47.1 7.1M54.0 19.8L61.0 12.8M66.7 80.0L61.0 93.9L47.1 99.6L33.2 93.9L27.5 80.0L33.2 66.1L47.1 60.4L61.0 66.1L66.7 80.0M56.9 80.0L66.7 80.0M54.0 86.9L61.0 93.9M47.1 89.8L47.1 99.6M40.2 86.9L33.2 93.9M37.3 80.0L27.5 80.0M40.2 73.1L33.2 66.1M47.1 70.2L47.1 60.4M54.0 73.1L61.0 66.1M66.7 152.3L61.0 166.2L47.1 171.9L33.2 166.2L27.5 152.3L33.2 138.4L47.1 132.7L61.0 138.4L66.7 152.3M56.9 152.3L66.7 152.3M54.0 159.2L61.0 166.2M47.1 162.1L47.1 171.9M40.2 159.2L33.2 166.2M37.3 152.3L27.5 152.3M40.2 145.4L33.2 138.4M47.1 142.5L47.1 132.7M54.0 145.4L61.0 138.4M66.7 205.3L61.0 219.2L47.1 224.9L33.2 219.2L27.5 205.3L33.2 191.4L47.1 185.7L61.0 191.4L66.7 205.3M56.9 205.3L66.7 205.3M54.0 212.2L61.0 219.2M47.1 215.1L47.1 224.9M40.2 212.2L33.2 219.2M37.3 205.3L27.5 205.3M40.2 198.4L33.2 191.4M47.1 195.5L47.1 185.7M54.0 198.4L61.0 191.4M66.7 441.6L61.0 455.5L47.1 461.2L33.2 455.5L27.5 441.6L33.2 427.7L47.1 422.0L61.0 427.7L66.7 441.6M56.9 441.6L66.7 441.6M54.0 448.5L61.0 455.5M47.1 451.4L47.1 461.2M40.2 448.5L33.2 455.5M37.3 441.6L27.5 441.6M40.2 434.7L33.2 427.7M47.1 431.8L47.1 422.0M54.0 434.7L61.0 427.7M191.3 26.7L185.6 40.6L171.7 46.3L157.8 40.6L152.1 26.7L157.8 12.8L171.7 7.1L185.6 12.8L191.3 26.7M181.5 26.7L191.3 26.7M178.6 33.6L185.6 40.6M171.7 36.5L171.7 46.3M164.8 33.6L157.8 40.6M161.9 26.7L152.1 26.7M164.8 19.8L157.8 12.8M171.7 16.9L171.7 7.1M178.6 19.8L185.6 12.8M191.3 80.0L185.6 93.9L171.7 99.6L157.8 93.9L152.1 80.0L157.8 66.1L171.7 60.4L185.6 66.1L191.3 80.0M181.5 80.0L191.3 80.0M178.6 86.9L185.6 93.9M171.7 89.8L171.7 99.6M164.8 86.9L157.8 93.9M161.9 80.0L152.1 80.0M164.8 73.1L157.8 66.1M171.7 70.2L171.7 60.4M178.6 73.1L185.6 66.1M191.3 152.3L185.6 166.2L171.7 171.9L157.8 166.2L152.1 152.3L157.8 138.4L171.7 132.7L185.6 138.4L191.3 152.3M181.5 152.3L191.3 152.3M178.6 159.2L185.6 166.2M171.7 162.1L171.7 171.9M164.8 159.2L157.8 166.2M161.9 152.3L152.1 152.3M164.8 145.4L157.8 138.4M171.7 142.5L171.7 132.7M178.6 145.4L185.6 138.4M191.3 205.3L185.6 219.2L171.7 224.9L157.8 219.2L152.1 205.3L157.8 191.4L171.7 185.7L185.6 191.4L191.3 205.3M181.5 205.3L191.3 205.3M178.6 212.2L185.6 219.2M171.7 215.1L171.7 224.9M164.8 212.2L157.8 219.2M161.9 205.3L152.1 205.3M164.8 198.4L157.8 191.4M171.7 195.5L171.7 185.7M178.6 198.4L185.6 191.4M191.3 441.6L185.6 455.5L171.7 461.2L157.8 455.5L152.1 441.6L157.8 427.7L171.7 422.0L185.6 427.7L191.3 441.6M181.5 441.6L191.3 441.6M178.6 448.5L185.6 455.5M171.7 451.4L171.7 461.2M164.8 448.5L157.8 455.5M161.9 441.6L152.1 441.6M164.8 434.7L157.8 427.7M171.7 431.8L171.7 422.0M178.6 434.7L185.6 427.7" fill="none" stroke="#000" stroke-width=".95" stroke-opacity=".85" stroke-linecap="round"/>
<rect x=".3" y=".3" width="218.6" height="495.4" fill="none" stroke="#555" stroke-width=".7"/>
<path d="M-1.5 113.8H220.2" stroke="#f06e23" stroke-width="4.2" fill="none"/><path d="M109.4 112.8V480" stroke="#000" stroke-width="2" fill="none"/><path d="M0 480H219.2" stroke="#000" stroke-width="2.2" fill="none"/>
<polygon points="57.3,26.7 54.3,33.9 47.1,36.9 39.9,33.9 36.9,26.7 39.9,19.5 47.1,16.5 54.3,19.5" fill="#bcbcbc" stroke="#666" stroke-width=".5"/><polygon points="181.8,26.7 178.8,33.9 171.6,36.9 164.4,33.9 161.4,26.7 164.4,19.5 171.6,16.5 178.8,19.5" fill="#bcbcbc" stroke="#666" stroke-width=".5"/><polygon points="57.3,80.0 54.3,87.2 47.1,90.2 39.9,87.2 36.9,80.0 39.9,72.8 47.1,69.8 54.3,72.8" fill="#bcbcbc" stroke="#666" stroke-width=".5"/><polygon points="181.8,80.0 178.8,87.2 171.6,90.2 164.4,87.2 161.4,80.0 164.4,72.8 171.6,69.8 178.8,72.8" fill="#bcbcbc" stroke="#666" stroke-width=".5"/><polygon points="57.3,152.3 54.3,159.5 47.1,162.5 39.9,159.5 36.9,152.3 39.9,145.1 47.1,142.1 54.3,145.1" fill="#bcbcbc" stroke="#666" stroke-width=".5"/><polygon points="181.8,152.3 178.8,159.5 171.6,162.5 164.4,159.5 161.4,152.3 164.4,145.1 171.6,142.1 178.8,145.1" fill="#bcbcbc" stroke="#666" stroke-width=".5"/><polygon points="57.3,205.3 54.3,212.5 47.1,215.5 39.9,212.5 36.9,205.3 39.9,198.1 47.1,195.1 54.3,198.1" fill="#bcbcbc" stroke="#666" stroke-width=".5"/><polygon points="181.8,205.3 178.8,212.5 171.6,215.5 164.4,212.5 161.4,205.3 164.4,198.1 171.6,195.1 178.8,198.1" fill="#bcbcbc" stroke="#666" stroke-width=".5"/><polygon points="57.3,441.6 54.3,448.8 47.1,451.8 39.9,448.8 36.9,441.6 39.9,434.4 47.1,431.4 54.3,434.4" fill="#bcbcbc" stroke="#666" stroke-width=".5"/><polygon points="181.8,441.6 178.8,448.8 171.6,451.8 164.4,448.8 161.4,441.6 164.4,434.4 171.6,431.4 178.8,434.4" fill="#bcbcbc" stroke="#666" stroke-width=".5"/>
<text class="n" x="47.45" y="31.3">8</text><text class="n" x="171.95" y="31.3">7</text><text class="n" x="47.45" y="84.6">6</text><text class="n" x="171.95" y="84.6">5</text><text class="n" x="47.45" y="156.9">2</text><text class="n" x="171.95" y="156.9">1</text><text class="n" x="47.45" y="209.9">4</text><text class="n" x="171.95" y="209.9">3</text><text class="n" x="47.45" y="446.2">10</text><text class="n" x="171.95" y="446.2">9</text>
</g>
<text class="t" x="492.4" y="34">75.3% Ut</text>
<text class="t" x="492.4" y="66">46.9% Ut<tspan class="s" dy="2">c</tspan></text>
<g transform="translate(674.9 86.2) scale(0.9986 0.9956)">
<clipPath id="cp2"><rect width="219.2" height="496"/></clipPath><g clip-path="url(#cp2)"><rect width="219.2" height="496" fill="#70329c"/><path d="M6.8 -0.2 5.2 24.8 3.2 29.2 -0.2 32.2 -0.2 496.2 219.2 496.2 219.2 32.2 216.2 29.8 213.8 24.8 212.2 -0.2Z" fill="#5834c4" fill-rule="evenodd"/><path d="M19.8 -0.2 18.2 11.8 14.8 25.2 0.8 45.2 -0.2 45.2 -0.2 296.8 27.2 296.8 48.2 293.8 68.2 297.2 83.2 306.2 89.2 311.2 92.8 320.8 96.8 336.2 95.8 339.8 90.2 350.8 87.2 354.8 82.2 363.8 67.8 377.8 63.8 380.2 53.8 391.2 49.2 394.2 44.8 395.8 38.2 395.8 25.2 397.2 -0.2 394.2 -0.2 496.2 213.2 496.2 213.2 495.2 217.8 490.8 219.2 490.2 219.2 394.8 197.2 397.2 192.2 397.2 191.8 396.8 171.2 395.8 163.2 391.8 156.2 386.2 149.8 379.8 145.2 372.2 137.8 362.8 133.2 349.2 127.2 338.8 126.8 334.2 131.2 319.2 132.2 313.8 133.8 310.2 150.8 292.2 153.8 292.2 162.8 295.2 174.2 297.8 189.8 300.2 219.2 301.2 219.2 45.2 216.8 43.2 213.8 38.2 206.2 29.2 203.8 25.2 200.8 11.2 199.2 -0.2Z" fill="#4632e2" fill-rule="evenodd"/><path d="M219.2 422.8 208.8 420.8 197.2 420.2 183.8 417.2 168.8 415.8 159.8 412.8 151.8 408.8 148.8 405.8 129.2 380.8 113.8 369.8 110.8 368.2 108.2 368.2 101.8 372.8 91.8 381.2 75.8 396.8 67.2 407.2 59.8 411.2 49.2 414.8 35.2 416.8 24.2 419.8 -0.2 419.8 -0.2 460.8 1.8 461.2 4.8 463.8 19.2 479.2 22.2 486.8 23.8 493.2 23.8 496.2 183.8 496.2 184.2 493.2 188.8 485.8 205.8 469.2 212.8 463.8 219.2 460.2ZM25.8 -0.2 24.8 14.8 22.8 27.2 12.2 40.2 5.2 51.2 2.2 54.2 -0.2 54.8 -0.2 278.8 23.8 278.8 44.2 276.2 50.2 276.2 69.2 278.2 80.8 281.2 91.2 285.2 109.2 299.2 111.8 298.2 121.8 289.8 132.2 282.2 140.2 278.2 148.8 275.2 154.2 275.2 167.2 278.2 190.2 281.8 193.2 282.8 219.2 284.2 219.2 55.2 216.8 54.2 214.2 51.8 206.2 39.8 196.2 28.2 194.8 20.8 193.2 -0.2Z" fill="#3333ff" fill-rule="evenodd"/><path d="M205.8 441.2 204.2 439.2 195.2 434.2 189.2 429.8 181.8 426.2 173.2 423.8 168.8 423.8 162.2 425.2 155.8 428.2 151.8 431.8 149.2 431.2 138.2 414.8 132.8 407.8 127.2 402.2 110.8 390.2 108.8 390.2 89.8 404.8 85.2 409.2 79.2 416.8 71.2 430.2 68.8 433.2 67.2 433.2 63.2 428.8 58.2 425.8 51.8 423.8 45.8 423.2 36.2 426.2 30.2 429.2 23.8 434.2 14.8 439.2 13.2 442.2 16.2 445.8 27.2 453.8 34.8 457.2 44.8 459.8 48.2 462.2 50.8 468.8 52.2 476.2 51.8 496.2 164.8 496.2 165.8 478.2 170.2 462.8 172.8 460.2 186.8 456.2 191.8 453.8 202.8 445.8 205.8 442.8ZM29.2 -0.2 27.2 11.2 26.2 26.2 23.8 35.2 21.2 39.8 16.2 45.8 12.8 51.2 9.2 54.8 2.8 58.2 -0.2 58.8 -0.2 176.8 1.8 178.2 1.8 180.2 -0.2 182.2 -0.2 268.2 23.2 268.2 45.2 265.2 64.8 266.2 74.2 267.8 109.8 276.2 115.2 274.2 131.8 265.8 150.8 263.2 168.8 268.2 188.2 271.2 191.2 272.2 219.2 273.2 219.2 185.8 218.2 185.8 213.2 182.2 210.8 179.2 211.2 177.8 214.2 175.2 217.8 173.2 219.2 173.2 219.2 59.8 213.2 57.2 206.2 51.2 200.8 43.2 196.8 38.8 194.8 34.8 192.8 27.8 191.8 11.8 189.8 -0.2ZM108.8 2.8 110.8 3.2 112.8 5.2 116.2 10.2 117.8 14.2 117.2 26.8 113.8 30.8 110.2 33.2 107.2 32.8 102.2 27.8 101.2 25.2 102.2 12.2 106.2 5.2Z" fill="#3380ff" fill-rule="evenodd"/><path d="M188.8 441.2 184.8 436.8 181.2 434.2 173.2 430.8 170.2 430.8 165.2 432.8 159.2 437.8 157.2 441.2 157.2 446.2 158.2 449.2 161.2 451.8 164.8 452.8 172.8 452.8 177.2 451.2 184.2 447.2 188.2 443.2ZM30.2 440.8 30.2 442.8 31.2 444.2 35.2 447.8 40.2 450.8 45.8 452.8 51.2 452.8 57.2 450.8 59.8 448.2 61.2 443.8 60.2 439.2 55.8 434.2 50.8 431.2 47.2 430.2 43.2 431.2 38.2 433.8 32.8 437.8ZM153.8 458.8 146.8 448.8 136.8 439.2 126.8 424.2 120.2 417.8 113.2 412.2 109.8 410.2 107.8 410.8 94.8 420.8 88.8 426.8 80.2 440.2 72.2 449.8 67.8 459.2 64.2 471.2 61.2 491.8 61.2 496.2 151.2 496.2 154.2 480.2 154.2 460.2ZM32.2 -0.2 29.2 14.8 28.2 28.8 25.2 41.2 22.2 48.2 20.2 51.2 13.2 57.2 4.2 61.8 -0.2 62.8 -0.2 166.8 2.8 168.2 8.8 174.2 11.2 178.2 11.2 180.2 7.2 187.8 2.2 195.2 -0.2 197.2 -0.2 257.2 27.2 257.8 36.2 256.8 52.2 256.8 52.8 256.2 69.2 255.8 109.2 261.8 128.2 251.8 131.8 251.2 141.2 253.2 149.8 253.8 158.2 256.2 172.8 259.2 176.2 259.2 195.8 262.8 219.2 262.8 219.2 196.2 216.8 195.8 210.8 191.8 201.8 184.8 197.2 179.8 197.2 178.2 200.2 175.2 215.2 165.8 219.2 164.2 219.2 64.2 215.2 63.2 204.2 56.8 198.8 51.2 196.2 47.8 193.8 41.8 190.2 27.2 189.2 11.8 186.8 -0.2 123.2 -0.2 128.8 12.2 128.8 26.8 126.2 30.2 119.2 37.2 110.2 44.2 108.2 44.2 101.8 40.2 93.2 31.8 90.2 26.8 92.2 10.2 95.8 -0.2Z" fill="#33c8ff" fill-rule="evenodd"/><path d="M171.2 436.2 167.2 438.2 165.2 440.2 164.8 442.2 167.8 445.8 169.8 446.8 173.2 446.8 177.8 444.2 179.2 442.8 179.2 440.8 176.8 438.2ZM39.8 440.2 39.2 441.2 39.8 442.8 45.2 446.8 48.8 446.8 50.8 445.8 53.8 442.2 53.2 440.2 50.8 437.8 47.8 436.2 45.8 436.2ZM142.8 457.2 135.2 449.2 124.8 442.8 111.8 428.2 109.8 427.2 107.8 427.8 102.8 431.8 93.2 441.8 87.8 444.8 82.8 448.8 76.2 457.2 74.2 462.2 71.2 477.2 69.2 496.2 144.8 496.2 146.2 483.8 146.2 475.2 144.8 462.2ZM35.2 -0.2 35.2 1.8 33.2 6.8 31.8 13.2 30.8 27.8 25.8 49.8 23.8 54.8 19.8 58.8 15.8 61.2 7.8 64.8 -0.2 66.8 -0.2 157.2 3.8 158.8 9.2 162.8 15.8 169.8 20.2 177.2 19.8 181.8 13.2 194.8 1.8 212.8 -0.2 214.2 -0.2 243.8 1.2 243.8 6.8 246.8 19.8 250.2 36.2 252.2 47.8 252.8 59.2 250.8 69.8 246.8 77.2 246.2 88.8 243.8 108.8 247.2 126.2 239.2 130.8 238.8 141.2 244.2 151.8 247.2 158.8 250.8 169.8 253.8 184.8 253.8 202.8 251.8 211.8 249.2 219.2 245.2 219.2 210.8 217.2 209.2 213.8 204.8 203.2 198.2 197.2 193.2 194.8 187.8 193.2 180.8 193.2 177.2 194.8 172.2 197.8 167.8 215.2 156.8 219.2 155.2 219.2 68.8 213.2 67.2 204.8 63.2 197.8 58.2 195.8 55.8 194.2 52.8 190.8 40.8 187.8 25.8 186.8 11.2 183.2 -0.2 133.8 -0.2 136.2 16.2 136.8 26.2 135.8 29.2 129.8 39.8 124.8 44.8 115.8 51.8 109.2 54.2 103.8 53.2 95.8 49.8 89.8 44.8 87.8 41.2 83.2 27.2 84.8 -0.2Z" fill="#33f0e8" fill-rule="evenodd"/><path d="M136.2 460.2 129.2 453.2 110.2 442.2 108.2 442.2 90.8 450.8 85.2 455.2 81.2 461.2 76.2 480.8 74.8 496.2 138.8 496.2 140.2 478.8ZM38.2 -0.2 38.2 1.2 34.2 12.2 33.2 25.8 29.2 47.2 24.8 60.2 21.8 63.8 15.8 66.8 7.8 69.2 -0.2 70.8 -0.2 150.8 3.2 150.8 10.2 152.2 15.2 154.2 18.2 156.8 21.8 161.2 23.2 164.8 25.8 176.2 25.2 184.2 21.8 197.8 17.8 205.8 5.8 225.8 3.2 230.8 3.8 232.8 8.2 236.8 17.2 241.8 28.8 245.8 43.8 248.8 48.8 248.8 59.2 245.2 68.2 238.8 81.8 233.2 88.8 228.2 92.2 228.2 106.2 232.2 110.8 232.2 116.8 229.2 128.2 221.8 130.2 221.8 131.8 223.2 135.2 229.8 139.8 234.2 151.2 240.2 156.8 244.2 162.8 247.2 170.2 249.8 175.2 249.8 188.2 246.8 205.8 237.8 210.2 233.8 211.2 232.2 211.2 229.8 207.2 221.8 195.8 203.8 192.2 189.8 190.8 178.2 194.8 162.8 195.8 160.8 198.8 157.8 203.2 154.8 208.8 152.2 216.2 150.2 219.2 150.2 219.2 73.2 214.8 72.8 203.2 68.8 197.8 65.8 194.8 62.2 192.8 57.8 189.2 45.8 185.8 27.8 184.8 12.8 180.2 -0.2 140.8 -0.2 143.8 27.2 137.8 40.2 132.8 49.2 128.8 53.8 120.2 56.8 109.2 59.2 90.8 57.2 88.2 56.2 84.8 53.2 80.8 42.8 77.2 28.8 77.8 12.8 76.2 -0.2Z" fill="#33c8a0" fill-rule="evenodd"/><path d="M127.2 460.2 119.2 454.8 110.2 449.8 105.8 450.8 89.8 459.2 86.8 464.2 82.8 476.8 81.2 484.8 80.2 496.2 132.8 496.2 133.8 486.8 133.8 477.8 130.2 465.8ZM41.2 -0.2 41.2 1.2 38.8 5.8 36.2 12.8 35.2 27.2 31.2 50.8 28.8 58.8 25.2 66.8 22.8 69.8 17.8 71.8 4.2 74.2 -0.2 74.2 -0.2 146.8 20.8 150.2 24.2 152.2 25.8 156.8 26.2 162.8 29.2 177.8 23.8 212.8 22.2 217.2 15.2 230.2 15.8 232.2 20.8 235.8 31.8 241.2 43.2 244.8 50.8 244.2 59.2 239.8 64.8 234.8 67.8 229.8 69.2 224.2 71.2 220.8 79.2 213.2 86.2 209.8 91.2 209.2 106.2 213.8 110.2 213.8 115.8 210.2 121.8 205.2 126.8 194.8 129.2 192.2 130.8 193.8 133.8 203.8 140.8 215.8 147.2 229.2 155.8 237.8 162.2 242.2 170.2 245.8 173.8 245.8 183.2 242.8 188.8 239.8 197.2 231.8 197.2 229.8 194.2 221.2 192.8 204.2 188.8 181.8 189.2 173.8 193.2 157.2 194.8 153.8 197.8 151.2 212.2 147.8 219.2 146.8 219.2 77.8 215.8 77.8 203.8 75.2 197.8 73.2 194.2 69.8 189.2 56.8 186.8 46.8 183.8 29.2 182.8 13.8 177.2 -0.2 147.8 -0.2 148.2 14.2 150.2 22.2 150.8 27.2 146.2 38.8 140.2 50.8 135.8 56.2 130.8 59.2 111.2 63.8 90.8 63.8 88.8 63.2 82.2 59.2 76.2 53.2 74.8 48.8 71.2 30.8 70.8 10.8 67.8 -0.2Z" fill="#33995a" fill-rule="evenodd"/><path d="M113.2 458.8 110.2 457.2 108.2 457.2 104.8 458.8 101.8 460.8 97.2 465.2 90.2 473.8 87.8 479.2 85.8 492.2 85.8 496.2 125.8 496.2 126.8 479.8 119.8 466.2 115.8 460.8ZM44.2 -0.2 39.8 8.8 38.2 13.2 36.8 31.8 33.2 54.2 29.8 64.8 25.8 73.2 23.2 76.2 20.8 77.2 -0.2 78.2 -0.2 143.2 22.8 147.8 27.2 151.8 32.2 176.8 32.2 180.8 27.8 203.8 27.2 218.8 25.8 231.2 31.2 235.8 37.2 238.8 44.8 241.2 49.8 240.8 56.8 236.8 61.2 232.2 63.8 226.2 66.2 213.2 67.2 203.2 69.8 195.8 80.2 185.2 84.2 179.2 85.8 153.2 87.8 151.2 89.2 150.8 97.2 152.2 100.8 155.2 103.2 159.8 107.2 163.8 108.8 163.8 110.2 162.2 112.8 154.2 114.8 151.8 121.2 148.8 127.2 147.2 130.2 147.2 136.2 150.2 139.2 153.2 138.2 171.2 137.8 171.8 137.8 180.2 141.2 191.2 148.8 207.8 154.2 228.8 155.8 231.8 161.8 237.2 170.2 241.8 173.8 241.8 182.8 237.8 189.2 232.2 190.2 228.8 190.2 205.2 186.8 183.8 186.8 175.2 191.8 152.8 194.8 149.2 197.8 147.8 219.2 143.2 219.2 82.2 197.8 80.2 196.2 79.8 193.2 76.2 188.8 65.2 185.2 52.8 181.8 29.8 180.8 14.2 178.8 8.2 174.2 -0.2 159.2 -0.2 158.8 1.2 156.8 3.2 155.2 6.2 153.8 12.2 155.2 27.2 152.2 40.8 150.2 46.8 145.8 56.2 141.2 61.2 135.2 64.2 126.8 66.2 109.2 68.8 96.2 69.2 90.2 70.2 86.2 69.2 79.8 65.8 75.8 62.8 70.8 57.8 68.8 54.8 67.8 51.8 65.8 31.8 65.2 13.2 62.2 6.2 56.2 -0.2Z" fill="#58a033" fill-rule="evenodd"/><path d="M109.8 468.8 107.8 469.2 98.8 479.2 94.8 494.2 94.8 496.2 116.8 496.2 117.2 479.8 112.2 471.2ZM47.2 1.8 43.8 5.8 40.2 13.2 36.2 53.2 31.8 68.8 27.2 78.2 23.8 81.8 21.8 82.2 -0.2 82.2 -0.2 139.8 23.8 145.2 28.2 149.2 30.8 154.2 32.2 165.2 35.2 177.8 30.2 204.2 30.8 220.8 32.8 230.8 35.2 233.2 40.8 236.2 44.8 237.8 48.2 237.8 54.2 234.2 57.8 230.8 62.2 218.2 63.8 210.2 65.2 188.2 67.8 176.2 69.2 155.8 70.2 152.2 72.8 149.8 79.2 146.2 89.8 142.2 103.8 142.2 118.2 140.8 130.2 140.8 144.2 148.2 147.8 150.8 149.2 152.8 148.2 166.2 146.8 174.8 146.8 179.8 150.8 190.8 153.8 211.2 155.8 219.8 159.8 230.2 165.8 235.8 170.8 238.2 174.2 237.8 179.2 235.2 184.8 229.8 187.2 216.8 187.8 203.8 184.2 178.8 189.2 152.2 193.8 146.8 197.2 144.8 219.2 140.2 219.2 86.2 196.8 84.2 193.8 82.8 190.2 78.8 185.8 66.2 182.2 51.8 179.8 28.8 179.2 17.8 178.2 12.2 176.2 7.8 172.2 2.2 168.8 1.8 165.2 3.8 161.2 7.8 158.8 12.8 158.8 28.8 155.8 45.2 153.2 54.8 151.2 73.2 149.8 75.2 141.8 72.2 129.2 71.2 123.8 72.2 107.8 73.2 87.8 76.8 75.2 72.2 71.2 69.8 68.2 66.8 66.2 62.8 63.2 52.8 60.2 13.2 59.2 10.8 55.2 5.8 49.2 1.8Z" fill="#a0c833" fill-rule="evenodd"/><path d="M46.2 6.2 44.2 8.8 41.8 15.2 38.8 54.8 35.2 68.8 31.8 78.2 26.2 84.2 23.2 85.8 -0.2 86.8 -0.2 136.8 2.2 136.8 6.2 138.2 23.8 142.2 29.2 146.8 32.8 152.8 34.8 165.2 37.8 176.2 37.8 181.2 32.8 203.2 33.8 217.8 37.2 228.8 41.2 232.8 44.8 234.2 48.2 234.2 53.8 230.2 58.2 221.2 61.8 206.8 61.8 176.8 64.2 163.2 64.8 153.2 67.8 144.8 71.2 141.2 87.2 134.8 110.2 131.2 130.2 134.2 148.8 144.8 152.2 148.8 153.8 152.2 152.8 178.2 154.8 190.8 155.8 206.2 158.2 217.2 162.8 227.8 167.2 232.8 171.2 234.8 176.8 232.8 179.8 229.8 181.8 225.8 184.2 217.2 185.2 210.8 185.2 200.8 183.2 189.2 182.2 177.8 186.2 153.8 189.2 147.8 194.8 142.8 200.8 140.8 219.2 136.8 219.2 90.8 195.8 87.8 192.2 85.8 187.2 80.8 183.8 71.2 180.2 55.8 178.8 42.8 177.8 20.8 176.8 13.8 174.8 9.2 171.8 5.8 169.8 5.8 167.8 6.8 164.2 10.2 162.8 13.2 161.8 30.8 159.8 46.8 157.8 56.8 156.2 76.2 155.2 80.2 152.8 82.8 150.8 83.8 146.2 83.2 129.8 77.2 109.8 77.8 92.2 82.2 83.8 82.2 70.2 80.2 67.2 78.2 65.2 74.2 59.2 54.2 57.8 25.8 56.2 13.8 54.8 10.8 50.8 6.8 48.8 5.8Z" fill="#f0f033" fill-rule="evenodd"/><path d="M47.2 9.2 45.2 11.2 43.8 14.8 42.2 26.2 41.2 55.8 37.2 73.2 34.2 81.2 28.8 86.8 22.8 89.8 -0.2 90.8 -0.2 132.8 14.8 137.2 22.2 138.8 25.8 140.2 31.2 145.2 34.8 151.8 36.2 161.2 40.8 177.2 40.8 180.2 35.2 201.2 35.2 210.8 37.8 220.8 40.2 225.8 44.2 230.2 48.2 230.8 51.8 227.2 54.2 223.2 58.2 212.8 59.2 208.2 59.2 195.2 57.2 182.8 57.2 177.2 60.8 163.2 62.2 150.2 64.2 142.2 67.2 135.2 69.8 132.8 72.2 131.8 87.2 128.2 105.8 126.2 112.8 126.2 128.2 127.8 131.8 128.8 148.8 138.2 153.2 143.2 156.8 151.8 156.8 180.8 157.2 181.2 157.8 200.2 158.8 208.8 161.8 218.8 164.2 223.8 170.2 230.8 173.2 230.8 176.8 227.2 179.2 223.2 181.8 216.2 183.2 208.8 183.2 201.2 180.8 185.8 180.2 177.8 184.8 150.8 188.2 144.8 193.2 140.2 198.2 138.2 219.2 133.2 219.2 94.8 215.8 94.8 194.8 91.2 189.8 88.2 185.2 83.8 182.8 79.8 177.2 53.8 176.2 23.8 174.8 13.8 173.2 10.8 171.2 9.2 169.2 9.8 166.8 12.2 165.8 14.8 164.2 29.2 163.8 45.8 160.8 68.2 160.2 77.2 159.2 80.8 155.8 84.8 150.2 87.8 141.8 86.8 130.2 83.8 110.8 84.2 94.2 87.2 84.8 87.2 68.8 85.2 65.2 83.2 61.8 79.2 59.8 73.2 55.2 53.8 54.8 26.2 53.2 15.2 52.2 12.8 49.2 9.8Z" fill="#ffc433" fill-rule="evenodd"/><path d="M47.2 13.2 45.8 15.8 44.2 24.2 43.8 57.2 39.2 78.2 37.8 82.2 35.8 85.2 31.2 89.8 25.8 92.8 22.2 93.8 -0.2 95.2 -0.2 125.8 2.2 126.2 12.8 133.2 23.8 136.2 28.8 138.8 33.8 144.2 36.8 151.2 39.2 164.2 43.8 178.2 37.2 202.2 37.8 211.2 39.2 216.8 41.8 221.8 45.2 225.8 47.8 226.2 52.8 220.2 57.2 206.8 56.8 195.8 52.8 178.2 58.2 160.8 61.2 139.8 62.8 133.8 64.2 130.8 66.8 127.8 69.2 126.2 79.8 123.8 93.8 121.8 116.2 121.2 116.8 121.8 129.8 122.2 137.8 125.2 149.2 131.8 155.2 138.8 159.2 150.8 159.8 168.2 160.2 168.8 160.2 184.2 160.8 184.8 160.2 202.2 161.2 209.2 163.8 216.8 167.2 222.8 170.8 226.2 173.2 225.8 176.2 222.2 178.8 217.2 181.2 207.8 181.2 201.2 178.8 185.8 178.2 177.2 182.8 149.8 186.2 142.8 190.8 138.2 195.8 135.8 208.2 132.2 219.2 121.8 219.2 104.8 218.2 104.8 213.2 100.8 208.8 98.2 194.8 95.2 188.8 92.2 182.2 85.8 179.2 79.2 174.8 55.8 174.8 49.2 174.2 48.8 174.8 27.8 173.8 19.2 172.2 14.2 170.8 13.2 169.2 14.8 167.8 20.2 166.8 30.2 166.8 40.8 167.2 41.2 166.8 55.2 163.2 79.8 160.8 84.8 157.2 88.2 151.8 91.2 124.8 90.8 112.8 92.8 94.8 92.8 69.2 90.2 63.2 87.2 57.8 81.2 51.8 55.8 51.2 50.8 51.8 34.2 52.2 33.8 51.8 23.8 49.8 15.2 48.2 13.2Z" fill="#ff8c33" fill-rule="evenodd"/><path d="M47.8 180.8 46.8 181.2 43.2 188.8 39.2 202.8 39.2 207.8 41.2 214.8 43.8 219.2 46.2 221.8 48.2 221.2 50.8 218.2 53.2 213.2 55.2 206.2 55.2 202.2 53.2 192.2 51.2 186.8ZM-0.2 105.2 -0.2 117.8 2.2 118.2 10.8 122.8 20.8 131.8 30.8 136.2 35.2 141.2 38.2 148.8 41.8 164.8 45.2 173.8 47.2 176.8 49.2 175.2 50.8 172.8 55.2 161.2 57.8 146.2 58.8 132.2 60.2 127.8 61.8 125.2 65.8 121.2 67.8 120.2 89.8 116.2 128.8 116.2 141.2 120.2 151.8 125.8 154.8 128.8 158.2 135.2 161.8 149.8 162.2 163.8 163.8 176.2 163.8 186.2 162.8 194.2 163.2 207.8 167.2 217.8 171.2 221.8 172.2 221.8 175.8 217.8 179.2 207.2 179.2 200.8 176.8 186.2 176.2 176.8 178.8 163.2 179.8 152.8 182.2 144.2 184.8 139.2 188.2 135.8 195.2 132.2 209.8 114.8 209.8 113.2 208.2 111.2 200.8 105.8 195.2 102.8 190.2 98.2 185.2 95.2 181.2 91.2 178.2 85.8 176.8 81.2 173.2 62.8 171.2 57.8 170.8 57.8 168.2 66.8 166.2 80.8 163.2 87.8 160.2 91.2 152.2 95.2 132.2 97.2 121.8 102.2 112.2 105.2 106.8 105.2 102.8 104.2 89.2 98.2 83.2 96.8 67.2 94.8 60.2 91.2 57.2 88.2 53.8 81.8 50.2 65.2 48.2 58.8 47.2 57.8 43.2 71.8 41.8 80.8 36.8 90.8 33.2 93.8 24.2 97.8 13.8 99.8ZM171.2 24.2 170.2 25.8 169.8 30.2 170.2 37.8 171.2 40.8 172.2 36.8 172.2 27.2ZM47.8 23.8 46.8 25.2 46.2 34.8 47.2 40.2 48.2 39.2 48.8 36.2 48.8 26.2Z" fill="#ee3c33" fill-rule="evenodd"/><path d="M48.2 189.2 46.8 189.2 45.8 190.2 43.2 195.8 41.2 203.2 41.2 206.8 42.8 211.8 45.2 216.2 46.8 217.2 48.2 216.8 49.8 214.8 52.8 207.8 52.2 198.2 50.8 193.8ZM171.2 74.8 166.8 90.2 164.2 94.2 154.8 103.8 149.8 106.2 144.2 110.2 142.8 113.2 147.8 116.2 156.2 119.2 160.2 123.2 161.8 127.2 163.2 145.2 164.2 149.8 164.8 161.8 166.8 172.8 166.8 186.2 165.2 195.2 165.2 206.2 167.8 213.2 169.8 216.2 171.8 217.2 174.2 214.8 177.2 206.8 176.8 196.8 174.2 183.2 174.2 174.8 177.2 159.2 177.8 151.8 180.8 139.2 185.2 131.2 186.2 122.8 188.8 118.2 192.2 114.8 192.2 113.8 186.2 110.2 181.8 105.2 179.2 96.8 176.8 92.8 175.2 88.2 172.2 75.2ZM46.8 74.2 41.8 91.8 34.8 102.8 29.2 106.8 22.2 108.8 16.8 111.2 14.2 113.8 14.8 114.8 23.2 120.8 27.8 123.2 30.8 126.8 32.8 132.2 37.8 138.8 39.8 145.2 42.8 160.2 45.8 167.2 47.8 168.8 49.8 166.8 51.8 162.8 54.2 153.8 55.2 123.2 57.2 118.8 59.8 116.2 64.8 113.8 65.8 111.8 62.2 107.2 58.8 98.2 54.2 93.2 51.2 86.8 48.8 76.2 47.8 74.2Z" fill="#c63232" fill-rule="evenodd"/></g>
<path d="M24.3 0.2L33.2 12.8M194.5 0.2L185.6 12.8M24.3 0.2L14.6 22.4M194.5 0.2L204.2 22.4M48.6 0.2L47.1 7.1M170.2 0.2L171.7 7.1M72.8 0.2L61.0 12.8M146.0 0.2L157.8 12.8M72.8 0.2L82.0 25.2M146.0 0.2L136.8 25.2M97.6 0.2L100.0 25.7L98.6 53.1L98.6 80.4L92.4 108.2M121.2 0.2L118.8 25.7L120.2 53.1L120.2 80.4L126.4 108.2M0.0 24.3L14.6 22.4L27.5 26.7M218.8 24.3L204.2 22.4L191.3 26.7M14.6 22.4L13.0 39.9L17.9 55.6M204.2 22.4L205.8 39.9L200.9 55.6M27.5 26.7L13.0 39.9L0.0 49.8M191.3 26.7L205.8 39.9L218.8 49.8M17.9 55.6L33.2 40.6M200.9 55.6L185.6 40.6M17.9 55.6L0.0 74.3M200.9 55.6L218.8 74.3M17.9 55.6L27.8 60.2M200.9 55.6L191.0 60.2M27.8 60.2L47.1 46.3M191.0 60.2L171.7 46.3M27.8 60.2L33.2 66.1M191.0 60.2L185.6 66.1M27.8 60.2L17.1 78.5M191.0 60.2L201.7 78.5M47.1 46.3L47.1 60.4M171.7 46.3L171.7 60.4M61.0 40.6L61.0 66.1M157.8 40.6L157.8 66.1M61.0 40.6L77.8 52.6M157.8 40.6L141.0 52.6M77.8 52.6L82.0 25.2L66.7 26.7M141.0 52.6L136.8 25.2L152.1 26.7M82.0 25.2L100.0 25.7L109.4 24.8M136.8 25.2L118.8 25.7L109.4 24.8M77.8 52.6L98.6 53.1L109.4 50.5M141.0 52.6L120.2 53.1L109.4 50.5M77.8 52.6L61.0 66.1M141.0 52.6L157.8 66.1M77.8 52.6L81.1 77.6M141.0 52.6L137.7 77.6M0.0 74.3L17.1 78.5L27.5 80.0M218.8 74.3L201.7 78.5L191.3 80.0M17.1 78.5L21.2 102.6L21.2 128.0L15.5 153.0L25.0 178.7M201.7 78.5L197.6 102.6L197.6 128.0L203.3 153.0L193.8 178.7M0.0 99.3L21.2 102.6L33.2 93.9M218.8 99.3L197.6 102.6L185.6 93.9M21.2 102.6L47.1 113.8M197.6 102.6L171.7 113.8M47.1 99.6L47.1 113.8L47.1 132.7M171.7 99.6L171.7 113.8L171.7 132.7M47.1 113.8L69.8 101.2M171.7 113.8L149.0 101.2M69.8 101.2L61.0 93.9M149.0 101.2L157.8 93.9M69.8 101.2L81.1 77.6M149.0 101.2L137.7 77.6M69.8 101.2L92.4 108.2M149.0 101.2L126.4 108.2M66.7 80.0L81.1 77.6L98.6 80.4L109.4 75.2M152.1 80.0L137.7 77.6L120.2 80.4L109.4 75.2M92.4 108.2L109.4 101.2M126.4 108.2L109.4 101.2M92.4 108.2L71.7 125.2M126.4 108.2L147.1 125.2M92.4 108.2L109.4 137.0M126.4 108.2L109.4 137.0M47.1 113.8L71.7 125.2M171.7 113.8L147.1 125.2M47.1 113.8L21.2 128.0M171.7 113.8L197.6 128.0M0.0 123.3L21.2 128.0M218.8 123.3L197.6 128.0M61.0 138.4L71.7 125.2L83.9 145.9M157.8 138.4L147.1 125.2L134.9 145.9M21.2 128.0L33.2 138.4M197.6 128.0L185.6 138.4M0.0 149.2L15.5 153.0L27.5 152.3M218.8 149.2L203.3 153.0L191.3 152.3M0.0 173.8L25.0 178.7L47.1 178.9L67.6 181.6L100.4 185.1L109.4 185.7M218.8 173.8L193.8 178.7L171.7 178.9L151.2 181.6L118.4 185.1L109.4 185.7M25.0 178.7L33.2 166.2M193.8 178.7L185.6 166.2M25.0 178.7L33.2 191.4M193.8 178.7L185.6 191.4M25.0 178.7L15.5 201.5M193.8 178.7L203.3 201.5M47.1 171.9L47.1 178.9L47.1 185.7M171.7 171.9L171.7 178.9L171.7 185.7M67.6 181.6L61.0 166.2M151.2 181.6L157.8 166.2M67.6 181.6L61.0 191.4M151.2 181.6L157.8 191.4M67.6 181.6L82.0 163.8M151.2 181.6L136.8 163.8M67.6 181.6L79.7 203.4M151.2 181.6L139.1 203.4M61.0 166.2L82.0 163.8L109.4 163.4M157.8 166.2L136.8 163.8L109.4 163.4M82.0 163.8L83.9 145.9M136.8 163.8L134.9 145.9M66.7 152.3L83.9 145.9L109.4 137.0M152.1 152.3L134.9 145.9L109.4 137.0M109.4 163.4L100.4 185.1L107.0 211.5M109.4 163.4L118.4 185.1L111.8 211.5M0.0 198.2L15.5 201.5L27.5 205.3M218.8 198.2L203.3 201.5L191.3 205.3M15.5 201.5L18.8 223.7L25.6 242.1M203.3 201.5L200.0 223.7L193.2 242.1M0.0 223.7L18.8 223.7L33.2 219.2M218.8 223.7L200.0 223.7L185.6 219.2M33.2 219.2L25.6 242.1M185.6 219.2L193.2 242.1M0.0 248.2L25.6 242.1L47.6 245.4L71.7 250.4M218.8 248.2L193.2 242.1L171.2 245.4L147.1 250.4M47.1 224.9L47.6 245.4M171.7 224.9L171.2 245.4M47.1 224.9L66.5 234.1L71.7 250.4M171.7 224.9L152.3 234.1L147.1 250.4M75.4 225.1L66.5 234.1M143.4 225.1L152.3 234.1M61.0 219.2L75.4 225.1L91.5 238.8M157.8 219.2L143.4 225.1L127.3 238.8M75.4 225.1L79.7 203.4M143.4 225.1L139.1 203.4M66.7 205.3L79.7 203.4L107.0 211.5L109.4 211.9M152.1 205.3L139.1 203.4L111.8 211.5L109.4 211.9M107.0 211.5L91.5 238.8L71.7 250.4M111.8 211.5L127.3 238.8L147.1 250.4M91.5 238.8L107.5 262.9M127.3 238.8L111.3 262.9M25.6 242.1L25.4 270.4L26.0 296.8L26.4 322.3L26.4 347.8L25.4 372.3L23.6 397.5L21.9 419.5L15.5 443.2L22.4 467.7L23.6 479.7L24.0 495.6M193.2 242.1L193.4 270.4L192.8 296.8L192.4 322.3L192.4 347.8L193.4 372.3L195.2 397.5L196.9 419.5L203.3 443.2L196.4 467.7L195.2 479.7L194.8 495.6M47.6 245.4L50.5 271.4L51.9 296.8L52.4 322.3L52.8 348.2L51.9 372.3L48.6 392.8L46.7 409.3L47.1 422.0M171.2 245.4L168.3 271.4L166.9 296.8L166.4 322.3L166.0 348.2L166.9 372.3L170.2 392.8L172.1 409.3L171.7 422.0M71.7 250.4L77.7 270.8L79.2 295.9L78.8 323.2L79.2 351.5L80.2 378.9L77.3 402.2L69.8 418.7L61.0 427.7M147.1 250.4L141.1 270.8L139.6 295.9L140.0 323.2L139.6 351.5L138.6 378.9L141.5 402.2L149.0 418.7L157.8 427.7M107.5 262.9L106.2 293.4L104.7 323.2L105.6 353.4L107.5 383.2M109.4 385.5L95.3 413.5L81.6 439.4M109.4 385.5L123.5 413.5L137.2 439.4M0.0 272.3L25.4 270.4L50.5 271.4L77.7 270.8L107.5 262.9L109.4 262.5M218.8 272.3L193.4 270.4L168.3 271.4L141.1 270.8L111.3 262.9L109.4 262.5M0.0 297.4L26.0 296.8L51.9 296.8L79.2 295.9L106.2 293.4L109.4 293.4M218.8 297.4L192.8 296.8L166.9 296.8L139.6 295.9L112.6 293.4L109.4 293.4M0.0 321.9L26.4 322.3L52.4 322.3L78.8 323.2L104.7 323.2L109.4 323.2M218.8 321.9L192.4 322.3L166.4 322.3L140.0 323.2L114.1 323.2L109.4 323.2M0.0 346.8L26.4 347.8L52.8 348.2L79.2 351.5L105.6 353.4L109.4 353.1M218.8 346.8L192.4 347.8L166.0 348.2L139.6 351.5L113.2 353.4L109.4 353.1M0.0 371.5L25.4 372.3L51.9 372.3L80.2 378.9L107.5 383.2L109.4 385.5M218.8 371.5L193.4 372.3L166.9 372.3L138.6 378.9L111.3 383.2L109.4 385.5M0.0 396.8L23.6 397.5L48.6 392.8L77.3 402.2L95.3 413.5L109.4 424.4M218.8 396.8L195.2 397.5L170.2 392.8L141.5 402.2L123.5 413.5L109.4 424.4M0.0 421.1L21.9 419.5L46.7 409.3L69.8 418.7M218.8 421.1L196.9 419.5L172.1 409.3L149.0 418.7M21.9 419.5L33.2 427.7M196.9 419.5L185.6 427.7M69.8 418.7L81.6 439.4M149.0 418.7L137.2 439.4M109.4 424.4L102.8 447.5M109.4 424.4L116.0 447.5M0.0 446.8L15.5 443.2L27.5 441.6M218.8 446.8L203.3 443.2L191.3 441.6M0.0 471.5L22.4 467.7L47.6 474.3L72.6 465.8L98.1 470.6L109.4 472.6M218.8 471.5L196.4 467.7L171.2 474.3L146.2 465.8L120.7 470.6L109.4 472.6M22.4 467.7L33.2 455.5M196.4 467.7L185.6 455.5M47.1 461.2L47.6 474.3L48.1 479.7L48.6 495.6M171.7 461.2L171.2 474.3L170.7 479.7L170.2 495.6M72.6 465.8L61.0 455.5M146.2 465.8L157.8 455.5M72.6 465.8L81.6 439.4M146.2 465.8L137.2 439.4M72.6 465.8L73.1 479.7L73.1 495.6M146.2 465.8L145.7 479.7L145.7 495.6M66.7 441.6L81.6 439.4L102.8 447.5L109.4 448.9M152.1 441.6L137.2 439.4L116.0 447.5L109.4 448.9M102.8 447.5L98.1 470.6L97.6 479.7L97.6 495.6M116.0 447.5L120.7 470.6L121.2 479.7L121.2 495.6M66.7 26.7L61.0 40.6L47.1 46.3L33.2 40.6L27.5 26.7L33.2 12.8L47.1 7.1L61.0 12.8L66.7 26.7M56.9 26.7L66.7 26.7M54.0 33.6L61.0 40.6M47.1 36.5L47.1 46.3M40.2 33.6L33.2 40.6M37.3 26.7L27.5 26.7M40.2 19.8L33.2 12.8M47.1 16.9L47.1 7.1M54.0 19.8L61.0 12.8M66.7 80.0L61.0 93.9L47.1 99.6L33.2 93.9L27.5 80.0L33.2 66.1L47.1 60.4L61.0 66.1L66.7 80.0M56.9 80.0L66.7 80.0M54.0 86.9L61.0 93.9M47.1 89.8L47.1 99.6M40.2 86.9L33.2 93.9M37.3 80.0L27.5 80.0M40.2 73.1L33.2 66.1M47.1 70.2L47.1 60.4M54.0 73.1L61.0 66.1M66.7 152.3L61.0 166.2L47.1 171.9L33.2 166.2L27.5 152.3L33.2 138.4L47.1 132.7L61.0 138.4L66.7 152.3M56.9 152.3L66.7 152.3M54.0 159.2L61.0 166.2M47.1 162.1L47.1 171.9M40.2 159.2L33.2 166.2M37.3 152.3L27.5 152.3M40.2 145.4L33.2 138.4M47.1 142.5L47.1 132.7M54.0 145.4L61.0 138.4M66.7 205.3L61.0 219.2L47.1 224.9L33.2 219.2L27.5 205.3L33.2 191.4L47.1 185.7L61.0 191.4L66.7 205.3M56.9 205.3L66.7 205.3M54.0 212.2L61.0 219.2M47.1 215.1L47.1 224.9M40.2 212.2L33.2 219.2M37.3 205.3L27.5 205.3M40.2 198.4L33.2 191.4M47.1 195.5L47.1 185.7M54.0 198.4L61.0 191.4M66.7 441.6L61.0 455.5L47.1 461.2L33.2 455.5L27.5 441.6L33.2 427.7L47.1 422.0L61.0 427.7L66.7 441.6M56.9 441.6L66.7 441.6M54.0 448.5L61.0 455.5M47.1 451.4L47.1 461.2M40.2 448.5L33.2 455.5M37.3 441.6L27.5 441.6M40.2 434.7L33.2 427.7M47.1 431.8L47.1 422.0M54.0 434.7L61.0 427.7M191.3 26.7L185.6 40.6L171.7 46.3L157.8 40.6L152.1 26.7L157.8 12.8L171.7 7.1L185.6 12.8L191.3 26.7M181.5 26.7L191.3 26.7M178.6 33.6L185.6 40.6M171.7 36.5L171.7 46.3M164.8 33.6L157.8 40.6M161.9 26.7L152.1 26.7M164.8 19.8L157.8 12.8M171.7 16.9L171.7 7.1M178.6 19.8L185.6 12.8M191.3 80.0L185.6 93.9L171.7 99.6L157.8 93.9L152.1 80.0L157.8 66.1L171.7 60.4L185.6 66.1L191.3 80.0M181.5 80.0L191.3 80.0M178.6 86.9L185.6 93.9M171.7 89.8L171.7 99.6M164.8 86.9L157.8 93.9M161.9 80.0L152.1 80.0M164.8 73.1L157.8 66.1M171.7 70.2L171.7 60.4M178.6 73.1L185.6 66.1M191.3 152.3L185.6 166.2L171.7 171.9L157.8 166.2L152.1 152.3L157.8 138.4L171.7 132.7L185.6 138.4L191.3 152.3M181.5 152.3L191.3 152.3M178.6 159.2L185.6 166.2M171.7 162.1L171.7 171.9M164.8 159.2L157.8 166.2M161.9 152.3L152.1 152.3M164.8 145.4L157.8 138.4M171.7 142.5L171.7 132.7M178.6 145.4L185.6 138.4M191.3 205.3L185.6 219.2L171.7 224.9L157.8 219.2L152.1 205.3L157.8 191.4L171.7 185.7L185.6 191.4L191.3 205.3M181.5 205.3L191.3 205.3M178.6 212.2L185.6 219.2M171.7 215.1L171.7 224.9M164.8 212.2L157.8 219.2M161.9 205.3L152.1 205.3M164.8 198.4L157.8 191.4M171.7 195.5L171.7 185.7M178.6 198.4L185.6 191.4M191.3 441.6L185.6 455.5L171.7 461.2L157.8 455.5L152.1 441.6L157.8 427.7L171.7 422.0L185.6 427.7L191.3 441.6M181.5 441.6L191.3 441.6M178.6 448.5L185.6 455.5M171.7 451.4L171.7 461.2M164.8 448.5L157.8 455.5M161.9 441.6L152.1 441.6M164.8 434.7L157.8 427.7M171.7 431.8L171.7 422.0M178.6 434.7L185.6 427.7" fill="none" stroke="#000" stroke-width=".95" stroke-opacity=".85" stroke-linecap="round"/>
<rect x=".3" y=".3" width="218.6" height="495.4" fill="none" stroke="#555" stroke-width=".7"/>
<path d="M-1.5 113.8H220.2" stroke="#f06e23" stroke-width="4.2" fill="none"/><path d="M109.4 112.8V480" stroke="#000" stroke-width="2" fill="none"/><path d="M0 480H219.2" stroke="#000" stroke-width="2.2" fill="none"/>
<polygon points="57.3,26.7 54.3,33.9 47.1,36.9 39.9,33.9 36.9,26.7 39.9,19.5 47.1,16.5 54.3,19.5" fill="#bcbcbc" stroke="#666" stroke-width=".5"/><polygon points="181.8,26.7 178.8,33.9 171.6,36.9 164.4,33.9 161.4,26.7 164.4,19.5 171.6,16.5 178.8,19.5" fill="#bcbcbc" stroke="#666" stroke-width=".5"/><polygon points="57.3,80.0 54.3,87.2 47.1,90.2 39.9,87.2 36.9,80.0 39.9,72.8 47.1,69.8 54.3,72.8" fill="#bcbcbc" stroke="#666" stroke-width=".5"/><polygon points="181.8,80.0 178.8,87.2 171.6,90.2 164.4,87.2 161.4,80.0 164.4,72.8 171.6,69.8 178.8,72.8" fill="#bcbcbc" stroke="#666" stroke-width=".5"/><polygon points="57.3,152.3 54.3,159.5 47.1,162.5 39.9,159.5 36.9,152.3 39.9,145.1 47.1,142.1 54.3,145.1" fill="#bcbcbc" stroke="#666" stroke-width=".5"/><polygon points="181.8,152.3 178.8,159.5 171.6,162.5 164.4,159.5 161.4,152.3 164.4,145.1 171.6,142.1 178.8,145.1" fill="#bcbcbc" stroke="#666" stroke-width=".5"/><polygon points="57.3,205.3 54.3,212.5 47.1,215.5 39.9,212.5 36.9,205.3 39.9,198.1 47.1,195.1 54.3,198.1" fill="#bcbcbc" stroke="#666" stroke-width=".5"/><polygon points="181.8,205.3 178.8,212.5 171.6,215.5 164.4,212.5 161.4,205.3 164.4,198.1 171.6,195.1 178.8,198.1" fill="#bcbcbc" stroke="#666" stroke-width=".5"/><polygon points="57.3,441.6 54.3,448.8 47.1,451.8 39.9,448.8 36.9,441.6 39.9,434.4 47.1,431.4 54.3,434.4" fill="#bcbcbc" stroke="#666" stroke-width=".5"/><polygon points="181.8,441.6 178.8,448.8 171.6,451.8 164.4,448.8 161.4,441.6 164.4,434.4 171.6,431.4 178.8,434.4" fill="#bcbcbc" stroke="#666" stroke-width=".5"/>
<text class="n" x="47.45" y="31.3">8</text><text class="n" x="171.95" y="31.3">7</text><text class="n" x="47.45" y="84.6">6</text><text class="n" x="171.95" y="84.6">5</text><text class="n" x="47.45" y="156.9">2</text><text class="n" x="171.95" y="156.9">1</text><text class="n" x="47.45" y="209.9">4</text><text class="n" x="171.95" y="209.9">3</text><text class="n" x="47.45" y="446.2">10</text><text class="n" x="171.95" y="446.2">9</text>
</g>
<text class="t" x="783.8" y="34">76.9% Ut</text>
<text class="t" x="783.6" y="66">58.3% Ut<tspan class="s" dy="2">c</tspan></text>
<g transform="translate(961.9 90.4) scale(0.9922 0.9905)">
<clipPath id="cp3"><rect width="219.2" height="496"/></clipPath><g clip-path="url(#cp3)"><rect width="219.2" height="496" fill="#4632e2"/><path d="M2.8 -0.2 2.8 1.2 0.8 5.2 -0.2 5.8 -0.2 334.8 10.8 335.2 26.8 337.2 36.2 339.8 44.2 343.2 46.8 345.8 48.2 348.8 50.2 356.2 50.8 362.8 49.2 365.8 45.8 369.2 25.8 375.8 20.2 375.8 8.2 373.2 -0.2 372.8 -0.2 496.2 219.2 496.2 219.2 368.8 205.2 372.2 195.2 376.2 173.2 379.2 171.8 378.8 169.8 376.8 162.8 365.8 161.2 362.2 163.2 350.2 167.2 338.2 171.2 334.8 198.8 335.2 208.2 337.2 216.8 341.8 219.2 342.2 219.2 4.2 217.2 2.8 216.2 -0.2Z" fill="#3333ff" fill-rule="evenodd"/><path d="M9.2 -0.2 3.8 10.2 2.8 13.8 -0.2 16.8 -0.2 315.8 23.2 316.2 33.8 314.2 43.8 311.2 48.2 311.2 53.2 314.2 62.8 321.8 68.8 327.8 72.8 335.8 72.8 339.8 71.8 342.8 69.2 362.8 61.2 373.8 53.2 386.8 49.2 390.8 45.2 392.2 22.8 393.8 2.8 390.2 -0.2 390.2 -0.2 496.2 219.2 496.2 219.2 387.8 196.2 393.8 177.8 394.8 177.2 395.2 171.2 395.2 157.2 388.8 151.2 379.8 148.8 371.8 145.2 363.8 143.8 347.8 142.2 339.2 142.2 335.8 146.8 323.8 149.8 317.2 152.2 314.8 172.2 315.8 193.8 320.2 219.2 322.2 219.2 14.8 216.8 12.8 213.8 6.2 210.2 1.8 209.8 -0.2Z" fill="#3380ff" fill-rule="evenodd"/><path d="M15.2 -0.2 14.8 1.2 9.2 8.2 2.8 21.2 -0.2 24.2 -0.2 302.8 24.8 303.2 44.8 299.8 48.2 299.8 69.2 305.2 76.8 309.2 79.8 312.2 84.2 321.8 89.2 335.2 89.2 337.2 84.2 349.8 81.2 362.2 68.2 386.8 64.2 390.8 46.2 400.8 21.2 402.2 -0.2 398.8 -0.2 496.2 219.2 496.2 219.2 397.8 193.8 402.8 171.2 403.8 159.2 397.2 150.8 393.8 145.8 389.2 144.2 386.2 143.2 382.2 139.2 372.8 132.8 361.2 131.8 355.8 129.2 348.2 122.8 337.2 122.8 335.2 127.8 325.8 132.2 313.2 133.8 310.8 138.2 307.2 148.8 301.2 151.8 300.2 171.2 300.8 195.2 306.8 219.2 307.8 219.2 21.8 216.2 19.2 210.2 8.8 203.2 0.8 203.2 -0.2Z" fill="#33c8ff" fill-rule="evenodd"/><path d="M219.2 406.8 195.2 411.2 171.2 411.8 162.2 406.2 150.2 400.2 138.2 389.8 130.2 374.2 119.2 362.2 113.2 352.2 110.2 349.2 108.8 348.8 106.8 349.8 99.2 357.2 95.8 362.2 90.2 367.2 86.8 372.2 78.8 387.2 75.2 391.2 65.2 398.8 48.8 408.2 45.8 409.2 40.8 409.2 29.2 410.8 20.2 410.8 -0.2 407.2 -0.2 496.2 213.2 496.2 214.2 492.8 217.8 485.8 219.2 484.8ZM21.2 -0.2 20.8 1.2 16.8 4.8 12.8 9.8 7.2 19.2 1.2 32.2 -0.2 33.2 -0.2 292.2 12.8 292.8 13.2 293.2 26.2 293.2 42.8 289.8 48.2 289.2 69.2 294.8 89.8 305.2 96.2 307.2 102.8 310.2 108.2 315.8 109.8 315.8 111.8 312.8 116.8 308.2 121.2 306.2 143.2 293.2 151.8 289.2 170.8 287.8 195.2 295.2 219.2 297.2 219.2 29.8 217.8 28.8 205.8 9.2 197.2 1.2 196.8 -0.2Z" fill="#33f0e8" fill-rule="evenodd"/><path d="M219.2 416.2 203.8 418.8 172.8 417.8 167.2 416.2 152.2 408.2 141.2 399.8 128.2 387.2 121.8 378.2 112.2 368.8 108.8 367.2 103.8 370.2 96.2 377.2 92.2 382.2 88.8 388.2 82.8 393.8 66.8 406.2 50.8 414.8 45.8 416.2 35.8 416.8 25.2 418.8 15.8 418.8 -0.2 416.2 -0.2 468.8 2.2 471.2 5.8 478.8 8.8 488.2 10.2 496.2 201.8 496.2 202.2 493.2 208.8 479.2 214.2 472.2 218.2 468.2 219.2 468.2ZM25.8 -0.2 24.2 2.8 16.8 10.2 13.8 14.8 6.8 27.8 3.8 36.8 1.2 41.8 -0.2 42.8 -0.2 283.2 25.2 284.2 42.8 281.8 50.8 281.8 65.8 283.8 73.2 286.2 90.8 295.2 106.8 301.2 110.8 301.2 114.8 299.2 130.2 289.2 137.8 285.2 144.8 282.8 152.8 281.2 175.2 281.2 196.8 284.8 219.2 286.8 219.2 180.2 217.8 179.2 218.2 177.2 219.2 176.8 219.2 40.8 217.8 39.8 215.8 35.8 211.8 25.2 203.8 12.8 193.8 2.2 192.8 -0.2Z" fill="#33c8a0" fill-rule="evenodd"/><path d="M219.2 432.2 217.8 432.2 210.8 429.2 198.2 426.8 184.8 422.8 170.8 421.2 156.8 417.2 148.2 412.2 129.2 396.2 121.2 390.8 111.2 379.8 108.2 379.2 94.2 393.2 87.8 397.8 70.8 411.8 65.2 415.2 56.8 418.2 31.8 422.8 22.8 426.2 8.2 429.2 -0.2 432.8 -0.2 449.8 2.2 451.2 7.2 456.8 11.8 463.8 17.8 479.2 20.8 496.2 187.8 496.2 189.2 492.2 197.8 477.8 215.8 454.8 219.2 451.8ZM28.8 -0.2 26.2 4.8 18.8 13.2 11.8 24.8 4.8 44.8 2.2 49.8 -0.2 51.8 -0.2 278.8 26.2 279.2 48.2 276.8 68.8 279.2 80.8 281.8 92.8 285.2 107.2 291.2 110.2 291.2 120.8 284.8 128.8 281.2 150.2 276.8 170.8 276.8 193.8 279.8 219.2 280.8 219.2 185.2 217.2 184.8 212.2 179.8 212.2 177.2 217.8 171.2 219.2 170.8 219.2 51.2 217.2 49.8 215.8 47.2 207.8 25.8 199.8 13.2 193.2 6.2 190.2 1.8 189.8 -0.2Z" fill="#33995a" fill-rule="evenodd"/><path d="M210.2 441.8 208.8 439.8 205.8 437.8 184.8 427.2 177.2 425.2 162.2 423.8 152.2 421.8 147.2 418.8 131.2 405.2 118.2 397.2 110.8 390.8 108.2 390.8 100.8 397.2 89.8 404.8 70.8 419.8 63.8 422.2 45.8 423.8 34.2 426.8 13.2 437.8 9.2 441.2 9.2 442.8 22.2 459.2 27.2 471.8 31.2 479.2 37.2 496.2 171.8 496.2 179.2 481.2 190.8 469.8 196.8 462.8 209.2 444.2ZM31.8 -0.2 30.8 2.8 21.2 15.2 14.8 26.2 9.8 43.8 5.8 52.8 1.2 57.8 -0.2 58.2 -0.2 274.2 25.8 274.8 44.2 272.2 49.8 272.2 72.2 275.2 103.8 281.2 106.2 282.2 110.8 282.2 131.8 274.8 148.2 272.2 171.8 272.8 194.8 275.8 219.2 276.2 219.2 190.2 217.2 189.8 213.2 186.8 206.8 179.8 206.8 177.8 209.2 173.8 216.2 166.2 219.2 164.8 219.2 58.2 217.2 57.2 212.8 52.2 208.8 42.8 204.2 27.8 196.2 14.2 189.2 5.2 186.8 -0.2Z" fill="#58a033" fill-rule="evenodd"/><path d="M197.2 441.8 189.8 434.2 182.8 430.2 178.2 428.8 168.2 427.2 155.2 427.8 154.8 428.2 151.2 428.2 148.2 427.2 140.8 422.2 131.2 412.8 119.2 406.8 111.2 401.2 108.8 400.8 100.8 406.8 87.8 414.8 77.8 423.2 69.8 427.8 65.8 428.2 60.8 427.2 48.2 426.8 40.8 428.2 31.8 432.2 28.2 434.8 21.8 441.2 21.8 443.2 27.2 453.2 46.8 479.8 49.8 487.2 51.8 496.2 161.2 496.2 163.2 487.2 166.8 478.2 171.8 472.8 180.8 465.8 189.8 456.8 193.2 451.8 197.2 443.8ZM34.8 -0.2 32.8 4.8 23.2 18.2 18.2 26.8 15.2 40.2 10.8 53.2 8.8 56.2 2.2 62.8 -0.2 63.8 -0.2 168.8 3.2 171.8 7.2 177.8 6.8 180.8 -0.2 187.8 -0.2 270.2 25.2 270.2 42.8 267.8 51.2 267.8 79.8 271.8 108.2 276.8 111.2 276.2 131.2 269.2 144.8 267.8 158.2 267.8 158.8 268.2 172.2 268.8 196.2 271.8 219.2 272.2 219.2 195.2 216.2 194.2 210.2 189.8 203.8 183.2 201.2 179.2 202.2 175.8 208.2 167.8 214.8 161.2 218.2 158.8 219.2 158.8 219.2 63.8 213.8 60.2 208.2 54.2 206.2 50.2 202.8 39.8 199.8 27.2 193.8 17.8 191.8 13.2 185.8 4.8 183.8 -0.2Z" fill="#a0c833" fill-rule="evenodd"/><path d="M190.8 440.8 184.2 434.2 179.2 431.8 173.2 430.2 162.2 430.8 150.2 434.8 143.8 433.2 137.8 429.8 128.2 420.8 123.8 417.8 112.2 411.8 108.2 411.2 88.8 423.8 78.8 431.2 74.8 433.2 68.2 434.8 62.8 432.2 55.8 430.2 45.8 429.8 40.2 431.2 34.2 434.2 28.2 440.2 27.8 443.2 29.8 447.8 32.8 451.8 48.2 465.2 53.2 470.2 55.2 473.2 59.2 485.8 60.8 496.2 151.2 496.2 151.2 492.8 154.2 479.2 157.8 470.8 160.2 467.8 163.8 465.2 173.2 461.2 179.8 457.2 185.2 452.8 190.2 445.8 191.2 442.2ZM37.8 -0.2 37.8 1.2 35.8 5.2 31.2 11.8 28.2 17.8 22.2 26.2 17.8 47.8 14.2 56.8 11.8 60.2 6.2 65.8 1.8 68.8 -0.2 69.2 -0.2 158.2 0.8 158.2 7.2 165.2 15.2 177.8 14.8 180.8 9.8 187.8 1.2 196.8 -0.2 197.2 -0.2 265.8 24.8 265.8 48.8 262.8 66.8 265.8 78.8 266.8 106.2 270.8 110.2 270.8 130.2 263.8 153.2 262.8 191.8 267.2 219.2 267.8 219.2 200.2 214.2 198.2 206.8 192.8 200.8 186.8 195.8 179.2 195.8 177.8 197.8 173.8 203.8 165.2 211.8 157.2 217.2 153.2 219.2 152.8 219.2 69.2 215.8 67.8 210.2 63.8 202.8 54.8 199.8 46.8 195.2 27.2 191.8 21.8 187.8 12.8 182.2 4.2 180.8 -0.2ZM109.2 5.8 111.2 7.2 119.2 25.2 119.2 28.8 113.8 38.8 110.2 42.2 108.8 42.2 105.2 38.8 98.8 28.2 99.2 24.2 104.2 15.2 107.2 7.8Z" fill="#f0f033" fill-rule="evenodd"/><path d="M186.2 439.8 182.8 436.2 178.2 433.8 172.8 432.2 167.8 432.2 160.2 434.2 155.2 437.2 149.8 442.8 149.8 445.2 152.8 449.8 155.8 452.8 158.8 454.2 164.2 455.8 171.2 455.8 177.8 453.2 183.8 448.8 186.8 444.2ZM145.8 444.2 133.2 437.8 120.8 427.8 111.2 421.8 108.2 421.8 82.2 438.2 71.8 442.8 68.8 442.2 64.2 437.8 59.8 434.8 52.2 432.2 44.8 432.2 41.2 433.2 35.8 436.2 31.8 441.2 31.8 443.2 34.2 447.8 37.8 451.2 42.2 454.2 48.2 456.8 60.8 457.8 63.2 458.8 65.2 460.8 66.8 463.8 67.8 468.8 68.2 482.2 70.2 496.2 142.2 496.2 144.8 482.2 145.2 471.8 146.8 462.2 146.8 446.8ZM40.8 -0.2 40.2 2.8 35.2 11.2 30.8 21.2 26.2 28.2 21.8 51.8 17.2 62.2 8.2 71.2 2.2 74.2 -0.2 74.8 -0.2 149.2 5.2 151.8 11.2 157.8 16.8 165.2 23.2 177.8 21.8 182.8 13.8 194.2 5.2 203.2 2.2 205.8 -0.2 206.8 -0.2 261.2 24.2 261.2 43.2 258.2 50.8 258.2 71.8 261.8 76.8 261.8 103.2 264.8 110.8 264.8 130.8 257.8 151.8 257.8 161.8 259.8 192.8 263.2 219.2 263.8 219.2 205.2 217.8 205.2 211.8 202.2 204.2 197.2 196.2 189.2 190.2 180.2 190.2 177.2 192.2 172.8 200.8 160.2 211.2 150.8 219.2 146.8 219.2 74.8 212.8 72.2 206.2 67.8 202.8 64.2 198.2 57.8 195.2 50.2 189.8 26.2 186.8 20.8 184.8 14.2 177.8 1.2 177.8 -0.2 117.8 -0.2 122.2 13.8 127.8 24.8 128.2 28.2 125.2 38.2 122.2 44.8 119.2 49.2 115.2 53.2 110.8 55.8 107.8 55.2 102.2 50.2 92.8 35.8 89.2 27.2 90.2 24.2 96.8 13.2 99.8 -0.2Z" fill="#ffc433" fill-rule="evenodd"/><path d="M156.8 441.2 156.8 444.2 157.8 446.2 161.8 449.8 167.2 451.8 172.8 451.8 177.8 449.8 182.8 445.2 183.8 443.2 183.8 441.2 181.8 438.2 176.8 435.2 173.2 434.2 167.8 434.2 164.2 435.2 160.2 437.2ZM35.2 440.8 35.2 443.8 36.2 445.8 40.8 449.8 46.2 452.2 51.8 452.2 55.2 451.2 58.2 449.8 60.8 447.2 62.2 444.2 62.2 441.8 59.2 437.8 51.8 434.2 47.8 433.8 42.8 434.8 38.8 436.8ZM110.8 432.2 108.2 432.2 91.2 442.8 83.8 450.8 78.8 459.2 77.8 481.2 79.8 496.2 134.2 496.2 134.2 492.8 136.8 478.2 136.8 464.2 137.2 463.8 136.8 458.8 132.8 451.8 119.8 438.8ZM43.8 -0.2 42.8 4.2 37.8 13.8 35.8 20.8 32.2 28.2 30.8 39.8 27.8 53.8 21.8 68.2 14.2 75.8 5.8 79.2 -0.2 80.2 -0.2 143.2 3.8 144.2 15.2 150.2 20.2 155.2 26.8 166.8 30.8 178.8 26.2 189.8 18.2 201.2 9.2 210.2 2.8 214.8 -0.2 215.8 -0.2 255.8 24.8 255.2 37.8 251.8 45.8 250.2 49.8 250.2 61.2 252.2 68.8 254.8 80.8 256.8 108.8 259.2 114.8 256.8 119.2 251.2 128.2 242.2 132.2 241.8 137.2 244.2 151.2 247.8 175.2 256.2 195.2 259.2 219.2 259.2 219.2 216.8 216.8 215.8 207.8 206.2 200.2 201.2 192.8 194.2 187.2 186.8 184.2 179.8 184.2 177.2 186.2 171.8 189.8 164.8 195.2 157.2 205.2 147.8 216.2 141.8 219.2 141.2 219.2 80.2 212.8 78.8 202.8 73.8 198.8 70.2 193.2 62.2 188.8 51.2 184.8 27.2 182.2 20.8 181.2 15.2 175.2 2.8 174.8 -0.2 127.8 -0.2 129.8 11.2 135.8 26.2 135.2 34.2 132.8 51.2 131.2 55.2 127.2 59.2 119.2 63.2 110.8 65.8 106.8 64.8 96.2 57.8 90.8 52.2 86.8 44.2 82.8 30.2 82.8 24.8 88.8 12.2 88.8 -0.2ZM125.2 176.2 128.2 168.8 130.2 166.8 132.2 166.8 138.2 169.8 150.2 173.2 153.8 176.8 154.2 179.8 149.8 184.2 139.8 186.2 131.2 189.2 127.8 186.2 125.2 180.8Z" fill="#ff8c33" fill-rule="evenodd"/><path d="M109.8 443.2 107.8 443.8 89.8 460.2 87.8 473.8 87.8 484.8 89.2 492.2 89.2 496.2 123.8 496.2 124.2 491.2 126.8 480.8 126.2 460.8ZM160.8 440.8 160.2 442.8 161.2 444.8 163.8 447.2 168.8 449.2 174.2 448.8 177.2 447.2 180.8 443.2 180.8 440.8 177.8 437.8 171.8 435.8 164.8 437.2ZM37.8 441.2 38.8 444.8 41.2 447.2 45.8 449.2 52.8 448.8 54.8 447.8 58.2 443.8 58.2 441.2 55.8 438.2 49.2 435.8 45.8 435.8 42.8 436.8 40.2 438.2ZM47.8 -0.2 41.2 14.8 40.2 21.8 38.2 27.8 36.8 46.2 34.8 58.2 30.8 71.8 28.2 77.2 24.2 81.8 22.2 82.8 -0.2 88.8 -0.2 137.2 1.8 137.2 15.2 142.2 20.8 145.2 28.8 151.2 31.8 156.2 34.2 162.8 37.8 176.2 37.8 180.8 34.2 192.2 31.2 198.8 25.8 206.8 14.8 217.8 4.8 223.2 -0.2 224.8 -0.2 242.8 4.2 242.8 18.2 244.8 26.2 244.8 42.2 242.2 57.2 241.2 69.2 238.8 81.2 237.8 87.8 236.2 108.8 238.8 111.2 237.2 120.2 227.8 126.2 216.8 128.2 210.8 130.2 208.8 132.8 212.2 139.8 229.8 142.8 232.8 149.2 236.2 173.2 244.2 183.8 245.2 192.2 247.2 198.2 247.2 209.8 243.8 217.2 239.2 219.2 238.8 219.2 228.8 217.8 228.8 213.8 226.8 205.8 220.8 199.8 213.8 196.2 207.2 189.2 201.2 185.2 196.8 180.8 188.2 178.2 179.2 179.8 171.2 182.2 163.8 188.2 153.2 192.8 148.8 202.2 141.8 211.8 137.2 219.2 135.2 219.2 88.8 206.2 85.2 196.2 80.8 191.2 75.8 187.8 70.2 184.2 61.8 181.8 51.8 179.8 29.2 177.2 14.8 170.8 -0.2 138.8 -0.2 138.8 13.2 142.8 25.8 142.2 47.8 141.8 48.2 142.2 58.2 144.2 63.8 146.8 66.2 150.2 67.8 154.2 71.8 157.8 78.2 157.2 81.2 154.2 84.2 151.2 85.8 148.8 85.8 139.2 82.2 132.8 76.2 130.8 75.2 108.8 75.2 95.2 69.2 91.2 66.2 84.2 63.2 81.2 59.2 75.8 29.8 76.2 23.8 80.2 12.8 78.2 -0.2ZM67.2 162.2 70.2 162.8 72.8 165.2 78.2 176.2 78.2 179.8 77.2 181.8 70.8 188.8 68.8 189.8 67.2 189.8 63.2 186.2 59.2 179.8 59.2 176.8 60.2 173.8 64.2 165.8ZM129.2 148.8 131.2 148.8 140.2 156.8 153.2 164.2 158.2 169.8 162.2 177.8 162.2 179.8 160.2 184.2 158.2 187.2 152.8 192.8 140.2 198.2 130.8 204.8 129.8 204.8 124.8 198.8 120.2 189.2 117.2 178.8 118.2 172.2 122.2 158.8 126.2 151.2ZM71.8 68.2 74.8 69.8 76.8 72.2 77.8 75.2 77.8 80.2 72.2 85.8 69.2 87.2 66.8 87.2 63.8 85.2 60.2 81.2 60.2 77.8 62.8 73.2 66.8 68.8Z" fill="#ee3c33" fill-rule="evenodd"/><path d="M109.2 466.8 107.8 469.2 105.8 478.2 106.2 496.2 111.8 496.2 111.8 476.2 110.8 470.2ZM163.8 441.8 164.2 443.8 168.8 446.8 174.2 446.2 177.8 443.2 177.8 440.8 176.2 439.2 172.8 437.8 167.8 438.2 165.8 439.2ZM40.8 441.2 41.2 443.8 45.2 446.8 51.8 446.2 54.8 443.2 54.2 440.2 49.8 437.8 44.2 438.2 42.2 439.2ZM170.8 9.2 159.2 6.2 151.8 1.8 150.2 2.8 147.2 11.2 147.2 14.2 150.2 27.8 150.2 35.8 151.8 51.2 152.2 52.8 156.8 55.8 162.8 62.2 165.2 68.2 166.8 74.8 167.2 80.8 165.2 85.8 161.8 89.8 158.2 91.8 153.2 93.2 145.8 93.2 126.8 89.8 108.8 88.8 101.2 86.2 91.8 80.2 89.8 79.8 87.8 81.8 84.8 87.8 81.2 91.2 77.8 93.2 68.8 95.8 61.8 94.2 57.2 91.8 54.2 88.8 51.2 81.8 51.2 77.2 53.2 68.8 56.8 62.2 61.2 58.2 67.8 55.2 69.8 52.2 68.8 27.2 71.8 14.2 71.2 9.8 68.8 3.2 67.8 2.2 66.2 2.2 63.8 4.2 58.2 6.8 48.8 8.8 46.8 10.8 45.2 15.2 45.2 20.8 44.2 26.8 44.2 39.2 43.8 39.8 43.8 51.2 43.2 51.8 42.8 64.8 41.2 76.2 39.2 82.8 34.2 88.2 30.8 90.2 18.2 93.8 -0.2 97.8 -0.2 125.8 3.2 127.2 7.8 131.2 12.8 133.8 33.2 140.8 38.2 145.2 41.8 152.8 44.8 171.2 45.2 181.2 42.8 197.8 38.2 214.8 36.2 218.8 31.8 223.2 14.2 231.2 14.8 232.2 21.2 234.2 47.8 233.8 53.2 231.8 55.8 229.2 60.2 221.8 65.2 216.8 70.8 214.2 89.8 212.2 106.8 215.8 109.2 215.2 111.8 212.8 115.2 206.8 115.2 203.2 112.8 196.2 109.8 181.8 109.8 170.8 112.8 142.8 114.8 137.8 118.2 134.8 128.8 132.2 131.2 132.8 140.2 137.8 145.8 142.8 151.2 151.2 160.2 155.8 165.8 161.8 168.8 169.2 170.8 179.2 167.8 190.8 164.8 196.2 161.8 199.2 156.2 202.2 152.2 203.2 148.8 205.8 148.8 207.8 150.2 210.8 162.8 223.2 167.2 229.8 169.2 231.2 171.8 232.2 176.2 232.2 186.2 230.8 182.8 226.8 181.2 223.8 179.8 215.8 179.2 205.8 175.2 196.8 172.2 181.8 172.2 175.2 175.2 158.2 177.8 150.2 179.8 146.2 184.8 140.8 189.8 138.2 195.8 136.8 203.8 132.8 212.2 125.2 216.2 123.2 219.2 122.8 219.2 97.8 205.8 95.8 191.8 92.2 184.2 87.8 180.8 83.2 178.2 77.2 176.2 67.8 174.8 53.2 174.2 28.2 173.8 27.8 173.2 14.2ZM91.2 134.2 95.2 137.8 97.2 141.8 99.2 149.8 98.8 159.8 95.8 171.2 89.8 180.8 86.2 192.2 81.8 197.8 78.2 199.8 71.2 201.8 66.2 201.8 63.2 200.8 58.8 198.2 54.8 194.2 52.2 189.8 49.8 181.2 49.8 175.8 50.8 169.8 54.2 157.8 58.8 149.8 65.2 143.8 68.8 142.2 74.8 141.8 82.2 139.8 88.2 134.8Z" fill="#c63232" fill-rule="evenodd"/></g>
<path d="M24.3 0.2L33.2 12.8M194.5 0.2L185.6 12.8M24.3 0.2L14.6 22.4M194.5 0.2L204.2 22.4M48.6 0.2L47.1 7.1M170.2 0.2L171.7 7.1M72.8 0.2L61.0 12.8M146.0 0.2L157.8 12.8M72.8 0.2L82.0 25.2M146.0 0.2L136.8 25.2M97.6 0.2L100.0 25.7L98.6 53.1L98.6 80.4L92.4 108.2M121.2 0.2L118.8 25.7L120.2 53.1L120.2 80.4L126.4 108.2M0.0 24.3L14.6 22.4L27.5 26.7M218.8 24.3L204.2 22.4L191.3 26.7M14.6 22.4L13.0 39.9L17.9 55.6M204.2 22.4L205.8 39.9L200.9 55.6M27.5 26.7L13.0 39.9L0.0 49.8M191.3 26.7L205.8 39.9L218.8 49.8M17.9 55.6L33.2 40.6M200.9 55.6L185.6 40.6M17.9 55.6L0.0 74.3M200.9 55.6L218.8 74.3M17.9 55.6L27.8 60.2M200.9 55.6L191.0 60.2M27.8 60.2L47.1 46.3M191.0 60.2L171.7 46.3M27.8 60.2L33.2 66.1M191.0 60.2L185.6 66.1M27.8 60.2L17.1 78.5M191.0 60.2L201.7 78.5M47.1 46.3L47.1 60.4M171.7 46.3L171.7 60.4M61.0 40.6L61.0 66.1M157.8 40.6L157.8 66.1M61.0 40.6L77.8 52.6M157.8 40.6L141.0 52.6M77.8 52.6L82.0 25.2L66.7 26.7M141.0 52.6L136.8 25.2L152.1 26.7M82.0 25.2L100.0 25.7L109.4 24.8M136.8 25.2L118.8 25.7L109.4 24.8M77.8 52.6L98.6 53.1L109.4 50.5M141.0 52.6L120.2 53.1L109.4 50.5M77.8 52.6L61.0 66.1M141.0 52.6L157.8 66.1M77.8 52.6L81.1 77.6M141.0 52.6L137.7 77.6M0.0 74.3L17.1 78.5L27.5 80.0M218.8 74.3L201.7 78.5L191.3 80.0M17.1 78.5L21.2 102.6L21.2 128.0L15.5 153.0L25.0 178.7M201.7 78.5L197.6 102.6L197.6 128.0L203.3 153.0L193.8 178.7M0.0 99.3L21.2 102.6L33.2 93.9M218.8 99.3L197.6 102.6L185.6 93.9M21.2 102.6L47.1 113.8M197.6 102.6L171.7 113.8M47.1 99.6L47.1 113.8L47.1 132.7M171.7 99.6L171.7 113.8L171.7 132.7M47.1 113.8L69.8 101.2M171.7 113.8L149.0 101.2M69.8 101.2L61.0 93.9M149.0 101.2L157.8 93.9M69.8 101.2L81.1 77.6M149.0 101.2L137.7 77.6M69.8 101.2L92.4 108.2M149.0 101.2L126.4 108.2M66.7 80.0L81.1 77.6L98.6 80.4L109.4 75.2M152.1 80.0L137.7 77.6L120.2 80.4L109.4 75.2M92.4 108.2L109.4 101.2M126.4 108.2L109.4 101.2M92.4 108.2L71.7 125.2M126.4 108.2L147.1 125.2M92.4 108.2L109.4 137.0M126.4 108.2L109.4 137.0M47.1 113.8L71.7 125.2M171.7 113.8L147.1 125.2M47.1 113.8L21.2 128.0M171.7 113.8L197.6 128.0M0.0 123.3L21.2 128.0M218.8 123.3L197.6 128.0M61.0 138.4L71.7 125.2L83.9 145.9M157.8 138.4L147.1 125.2L134.9 145.9M21.2 128.0L33.2 138.4M197.6 128.0L185.6 138.4M0.0 149.2L15.5 153.0L27.5 152.3M218.8 149.2L203.3 153.0L191.3 152.3M0.0 173.8L25.0 178.7L47.1 178.9L67.6 181.6L100.4 185.1L109.4 185.7M218.8 173.8L193.8 178.7L171.7 178.9L151.2 181.6L118.4 185.1L109.4 185.7M25.0 178.7L33.2 166.2M193.8 178.7L185.6 166.2M25.0 178.7L33.2 191.4M193.8 178.7L185.6 191.4M25.0 178.7L15.5 201.5M193.8 178.7L203.3 201.5M47.1 171.9L47.1 178.9L47.1 185.7M171.7 171.9L171.7 178.9L171.7 185.7M67.6 181.6L61.0 166.2M151.2 181.6L157.8 166.2M67.6 181.6L61.0 191.4M151.2 181.6L157.8 191.4M67.6 181.6L82.0 163.8M151.2 181.6L136.8 163.8M67.6 181.6L79.7 203.4M151.2 181.6L139.1 203.4M61.0 166.2L82.0 163.8L109.4 163.4M157.8 166.2L136.8 163.8L109.4 163.4M82.0 163.8L83.9 145.9M136.8 163.8L134.9 145.9M66.7 152.3L83.9 145.9L109.4 137.0M152.1 152.3L134.9 145.9L109.4 137.0M109.4 163.4L100.4 185.1L107.0 211.5M109.4 163.4L118.4 185.1L111.8 211.5M0.0 198.2L15.5 201.5L27.5 205.3M218.8 198.2L203.3 201.5L191.3 205.3M15.5 201.5L18.8 223.7L25.6 242.1M203.3 201.5L200.0 223.7L193.2 242.1M0.0 223.7L18.8 223.7L33.2 219.2M218.8 223.7L200.0 223.7L185.6 219.2M33.2 219.2L25.6 242.1M185.6 219.2L193.2 242.1M0.0 248.2L25.6 242.1L47.6 245.4L71.7 250.4M218.8 248.2L193.2 242.1L171.2 245.4L147.1 250.4M47.1 224.9L47.6 245.4M171.7 224.9L171.2 245.4M47.1 224.9L66.5 234.1L71.7 250.4M171.7 224.9L152.3 234.1L147.1 250.4M75.4 225.1L66.5 234.1M143.4 225.1L152.3 234.1M61.0 219.2L75.4 225.1L91.5 238.8M157.8 219.2L143.4 225.1L127.3 238.8M75.4 225.1L79.7 203.4M143.4 225.1L139.1 203.4M66.7 205.3L79.7 203.4L107.0 211.5L109.4 211.9M152.1 205.3L139.1 203.4L111.8 211.5L109.4 211.9M107.0 211.5L91.5 238.8L71.7 250.4M111.8 211.5L127.3 238.8L147.1 250.4M91.5 238.8L107.5 262.9M127.3 238.8L111.3 262.9M25.6 242.1L25.4 270.4L26.0 296.8L26.4 322.3L26.4 347.8L25.4 372.3L23.6 397.5L21.9 419.5L15.5 443.2L22.4 467.7L23.6 479.7L24.0 495.6M193.2 242.1L193.4 270.4L192.8 296.8L192.4 322.3L192.4 347.8L193.4 372.3L195.2 397.5L196.9 419.5L203.3 443.2L196.4 467.7L195.2 479.7L194.8 495.6M47.6 245.4L50.5 271.4L51.9 296.8L52.4 322.3L52.8 348.2L51.9 372.3L48.6 392.8L46.7 409.3L47.1 422.0M171.2 245.4L168.3 271.4L166.9 296.8L166.4 322.3L166.0 348.2L166.9 372.3L170.2 392.8L172.1 409.3L171.7 422.0M71.7 250.4L77.7 270.8L79.2 295.9L78.8 323.2L79.2 351.5L80.2 378.9L77.3 402.2L69.8 418.7L61.0 427.7M147.1 250.4L141.1 270.8L139.6 295.9L140.0 323.2L139.6 351.5L138.6 378.9L141.5 402.2L149.0 418.7L157.8 427.7M107.5 262.9L106.2 293.4L104.7 323.2L105.6 353.4L107.5 383.2M109.4 385.5L95.3 413.5L81.6 439.4M109.4 385.5L123.5 413.5L137.2 439.4M0.0 272.3L25.4 270.4L50.5 271.4L77.7 270.8L107.5 262.9L109.4 262.5M218.8 272.3L193.4 270.4L168.3 271.4L141.1 270.8L111.3 262.9L109.4 262.5M0.0 297.4L26.0 296.8L51.9 296.8L79.2 295.9L106.2 293.4L109.4 293.4M218.8 297.4L192.8 296.8L166.9 296.8L139.6 295.9L112.6 293.4L109.4 293.4M0.0 321.9L26.4 322.3L52.4 322.3L78.8 323.2L104.7 323.2L109.4 323.2M218.8 321.9L192.4 322.3L166.4 322.3L140.0 323.2L114.1 323.2L109.4 323.2M0.0 346.8L26.4 347.8L52.8 348.2L79.2 351.5L105.6 353.4L109.4 353.1M218.8 346.8L192.4 347.8L166.0 348.2L139.6 351.5L113.2 353.4L109.4 353.1M0.0 371.5L25.4 372.3L51.9 372.3L80.2 378.9L107.5 383.2L109.4 385.5M218.8 371.5L193.4 372.3L166.9 372.3L138.6 378.9L111.3 383.2L109.4 385.5M0.0 396.8L23.6 397.5L48.6 392.8L77.3 402.2L95.3 413.5L109.4 424.4M218.8 396.8L195.2 397.5L170.2 392.8L141.5 402.2L123.5 413.5L109.4 424.4M0.0 421.1L21.9 419.5L46.7 409.3L69.8 418.7M218.8 421.1L196.9 419.5L172.1 409.3L149.0 418.7M21.9 419.5L33.2 427.7M196.9 419.5L185.6 427.7M69.8 418.7L81.6 439.4M149.0 418.7L137.2 439.4M109.4 424.4L102.8 447.5M109.4 424.4L116.0 447.5M0.0 446.8L15.5 443.2L27.5 441.6M218.8 446.8L203.3 443.2L191.3 441.6M0.0 471.5L22.4 467.7L47.6 474.3L72.6 465.8L98.1 470.6L109.4 472.6M218.8 471.5L196.4 467.7L171.2 474.3L146.2 465.8L120.7 470.6L109.4 472.6M22.4 467.7L33.2 455.5M196.4 467.7L185.6 455.5M47.1 461.2L47.6 474.3L48.1 479.7L48.6 495.6M171.7 461.2L171.2 474.3L170.7 479.7L170.2 495.6M72.6 465.8L61.0 455.5M146.2 465.8L157.8 455.5M72.6 465.8L81.6 439.4M146.2 465.8L137.2 439.4M72.6 465.8L73.1 479.7L73.1 495.6M146.2 465.8L145.7 479.7L145.7 495.6M66.7 441.6L81.6 439.4L102.8 447.5L109.4 448.9M152.1 441.6L137.2 439.4L116.0 447.5L109.4 448.9M102.8 447.5L98.1 470.6L97.6 479.7L97.6 495.6M116.0 447.5L120.7 470.6L121.2 479.7L121.2 495.6M66.7 26.7L61.0 40.6L47.1 46.3L33.2 40.6L27.5 26.7L33.2 12.8L47.1 7.1L61.0 12.8L66.7 26.7M56.9 26.7L66.7 26.7M54.0 33.6L61.0 40.6M47.1 36.5L47.1 46.3M40.2 33.6L33.2 40.6M37.3 26.7L27.5 26.7M40.2 19.8L33.2 12.8M47.1 16.9L47.1 7.1M54.0 19.8L61.0 12.8M66.7 80.0L61.0 93.9L47.1 99.6L33.2 93.9L27.5 80.0L33.2 66.1L47.1 60.4L61.0 66.1L66.7 80.0M56.9 80.0L66.7 80.0M54.0 86.9L61.0 93.9M47.1 89.8L47.1 99.6M40.2 86.9L33.2 93.9M37.3 80.0L27.5 80.0M40.2 73.1L33.2 66.1M47.1 70.2L47.1 60.4M54.0 73.1L61.0 66.1M66.7 152.3L61.0 166.2L47.1 171.9L33.2 166.2L27.5 152.3L33.2 138.4L47.1 132.7L61.0 138.4L66.7 152.3M56.9 152.3L66.7 152.3M54.0 159.2L61.0 166.2M47.1 162.1L47.1 171.9M40.2 159.2L33.2 166.2M37.3 152.3L27.5 152.3M40.2 145.4L33.2 138.4M47.1 142.5L47.1 132.7M54.0 145.4L61.0 138.4M66.7 205.3L61.0 219.2L47.1 224.9L33.2 219.2L27.5 205.3L33.2 191.4L47.1 185.7L61.0 191.4L66.7 205.3M56.9 205.3L66.7 205.3M54.0 212.2L61.0 219.2M47.1 215.1L47.1 224.9M40.2 212.2L33.2 219.2M37.3 205.3L27.5 205.3M40.2 198.4L33.2 191.4M47.1 195.5L47.1 185.7M54.0 198.4L61.0 191.4M66.7 441.6L61.0 455.5L47.1 461.2L33.2 455.5L27.5 441.6L33.2 427.7L47.1 422.0L61.0 427.7L66.7 441.6M56.9 441.6L66.7 441.6M54.0 448.5L61.0 455.5M47.1 451.4L47.1 461.2M40.2 448.5L33.2 455.5M37.3 441.6L27.5 441.6M40.2 434.7L33.2 427.7M47.1 431.8L47.1 422.0M54.0 434.7L61.0 427.7M191.3 26.7L185.6 40.6L171.7 46.3L157.8 40.6L152.1 26.7L157.8 12.8L171.7 7.1L185.6 12.8L191.3 26.7M181.5 26.7L191.3 26.7M178.6 33.6L185.6 40.6M171.7 36.5L171.7 46.3M164.8 33.6L157.8 40.6M161.9 26.7L152.1 26.7M164.8 19.8L157.8 12.8M171.7 16.9L171.7 7.1M178.6 19.8L185.6 12.8M191.3 80.0L185.6 93.9L171.7 99.6L157.8 93.9L152.1 80.0L157.8 66.1L171.7 60.4L185.6 66.1L191.3 80.0M181.5 80.0L191.3 80.0M178.6 86.9L185.6 93.9M171.7 89.8L171.7 99.6M164.8 86.9L157.8 93.9M161.9 80.0L152.1 80.0M164.8 73.1L157.8 66.1M171.7 70.2L171.7 60.4M178.6 73.1L185.6 66.1M191.3 152.3L185.6 166.2L171.7 171.9L157.8 166.2L152.1 152.3L157.8 138.4L171.7 132.7L185.6 138.4L191.3 152.3M181.5 152.3L191.3 152.3M178.6 159.2L185.6 166.2M171.7 162.1L171.7 171.9M164.8 159.2L157.8 166.2M161.9 152.3L152.1 152.3M164.8 145.4L157.8 138.4M171.7 142.5L171.7 132.7M178.6 145.4L185.6 138.4M191.3 205.3L185.6 219.2L171.7 224.9L157.8 219.2L152.1 205.3L157.8 191.4L171.7 185.7L185.6 191.4L191.3 205.3M181.5 205.3L191.3 205.3M178.6 212.2L185.6 219.2M171.7 215.1L171.7 224.9M164.8 212.2L157.8 219.2M161.9 205.3L152.1 205.3M164.8 198.4L157.8 191.4M171.7 195.5L171.7 185.7M178.6 198.4L185.6 191.4M191.3 441.6L185.6 455.5L171.7 461.2L157.8 455.5L152.1 441.6L157.8 427.7L171.7 422.0L185.6 427.7L191.3 441.6M181.5 441.6L191.3 441.6M178.6 448.5L185.6 455.5M171.7 451.4L171.7 461.2M164.8 448.5L157.8 455.5M161.9 441.6L152.1 441.6M164.8 434.7L157.8 427.7M171.7 431.8L171.7 422.0M178.6 434.7L185.6 427.7" fill="none" stroke="#000" stroke-width=".95" stroke-opacity=".85" stroke-linecap="round"/>
<rect x=".3" y=".3" width="218.6" height="495.4" fill="none" stroke="#555" stroke-width=".7"/>
<path d="M-1.5 113.8H220.2" stroke="#f06e23" stroke-width="4.2" fill="none"/><path d="M109.4 112.8V480" stroke="#000" stroke-width="2" fill="none"/><path d="M0 480H219.2" stroke="#000" stroke-width="2.2" fill="none"/>
<polygon points="57.3,26.7 54.3,33.9 47.1,36.9 39.9,33.9 36.9,26.7 39.9,19.5 47.1,16.5 54.3,19.5" fill="#bcbcbc" stroke="#666" stroke-width=".5"/><polygon points="181.8,26.7 178.8,33.9 171.6,36.9 164.4,33.9 161.4,26.7 164.4,19.5 171.6,16.5 178.8,19.5" fill="#bcbcbc" stroke="#666" stroke-width=".5"/><polygon points="57.3,80.0 54.3,87.2 47.1,90.2 39.9,87.2 36.9,80.0 39.9,72.8 47.1,69.8 54.3,72.8" fill="#bcbcbc" stroke="#666" stroke-width=".5"/><polygon points="181.8,80.0 178.8,87.2 171.6,90.2 164.4,87.2 161.4,80.0 164.4,72.8 171.6,69.8 178.8,72.8" fill="#bcbcbc" stroke="#666" stroke-width=".5"/><polygon points="57.3,152.3 54.3,159.5 47.1,162.5 39.9,159.5 36.9,152.3 39.9,145.1 47.1,142.1 54.3,145.1" fill="#bcbcbc" stroke="#666" stroke-width=".5"/><polygon points="181.8,152.3 178.8,159.5 171.6,162.5 164.4,159.5 161.4,152.3 164.4,145.1 171.6,142.1 178.8,145.1" fill="#bcbcbc" stroke="#666" stroke-width=".5"/><polygon points="57.3,205.3 54.3,212.5 47.1,215.5 39.9,212.5 36.9,205.3 39.9,198.1 47.1,195.1 54.3,198.1" fill="#bcbcbc" stroke="#666" stroke-width=".5"/><polygon points="181.8,205.3 178.8,212.5 171.6,215.5 164.4,212.5 161.4,205.3 164.4,198.1 171.6,195.1 178.8,198.1" fill="#bcbcbc" stroke="#666" stroke-width=".5"/><polygon points="57.3,441.6 54.3,448.8 47.1,451.8 39.9,448.8 36.9,441.6 39.9,434.4 47.1,431.4 54.3,434.4" fill="#bcbcbc" stroke="#666" stroke-width=".5"/><polygon points="181.8,441.6 178.8,448.8 171.6,451.8 164.4,448.8 161.4,441.6 164.4,434.4 171.6,431.4 178.8,434.4" fill="#bcbcbc" stroke="#666" stroke-width=".5"/>
<text class="n" x="47.45" y="31.3">8</text><text class="n" x="171.95" y="31.3">7</text><text class="n" x="47.45" y="84.6">6</text><text class="n" x="171.95" y="84.6">5</text><text class="n" x="47.45" y="156.9">2</text><text class="n" x="171.95" y="156.9">1</text><text class="n" x="47.45" y="209.9">4</text><text class="n" x="171.95" y="209.9">3</text><text class="n" x="47.45" y="446.2">10</text><text class="n" x="171.95" y="446.2">9</text>
</g>
<text class="t" x="1066.4" y="34">90% Ut</text>
<text class="t" x="1066.8" y="66">90% Ut<tspan class="s" dy="2">c</tspan></text>
<rect x="34.3" y="718.7" width="28.7" height="19.5" fill="#c3c3c3" stroke="#7d7d7d" stroke-width="1.1"/><rect x="63.0" y="697.5" width="28.7" height="40.7" fill="#c3c3c3" stroke="#7d7d7d" stroke-width="1.1"/><rect x="91.6" y="671.2" width="28.7" height="67.0" fill="#c3c3c3" stroke="#7d7d7d" stroke-width="1.1"/><rect x="120.3" y="707.2" width="28.7" height="31.0" fill="#c3c3c3" stroke="#7d7d7d" stroke-width="1.1"/><rect x="148.9" y="640.4" width="28.7" height="97.8" fill="#c3c3c3" stroke="#7d7d7d" stroke-width="1.1"/><rect x="177.6" y="706.1" width="28.7" height="32.1" fill="#c3c3c3" stroke="#7d7d7d" stroke-width="1.1"/><rect x="206.2" y="666.4" width="28.7" height="71.8" fill="#c3c3c3" stroke="#7d7d7d" stroke-width="1.1"/><rect x="234.9" y="700.2" width="28.7" height="38.0" fill="#c3c3c3" stroke="#7d7d7d" stroke-width="1.1"/><rect x="263.5" y="717.6" width="28.7" height="20.6" fill="#c3c3c3" stroke="#7d7d7d" stroke-width="1.1"/><path d="M33.8 738.2H292.7" stroke="#9a9a9a" stroke-width="1.6"/><text class="v" style="font-size:12.7px" x="34.4" y="716.6">1.2</text><text class="v" style="font-size:12.7px" x="149.0" y="638.0">6.1</text>
<rect x="362.2" y="708.5" width="27.8" height="27.1" fill="#c3c3c3" stroke="#7d7d7d" stroke-width="1.1"/><rect x="390.0" y="681.2" width="27.8" height="54.4" fill="#c3c3c3" stroke="#7d7d7d" stroke-width="1.1"/><rect x="417.9" y="649.2" width="27.8" height="86.4" fill="#c4fd6c" stroke="#7c9a52" stroke-width="1.1"/><rect x="445.7" y="688.7" width="27.8" height="46.9" fill="#c3c3c3" stroke="#7d7d7d" stroke-width="1.1"/><rect x="473.6" y="638.8" width="27.8" height="96.8" fill="#c4fd6c" stroke="#7c9a52" stroke-width="1.1"/><rect x="501.4" y="685.7" width="27.8" height="49.9" fill="#c3c3c3" stroke="#7d7d7d" stroke-width="1.1"/><rect x="529.3" y="643.1" width="27.8" height="92.5" fill="#c4fd6c" stroke="#7c9a52" stroke-width="1.1"/><rect x="557.1" y="682.5" width="27.8" height="53.1" fill="#c3c3c3" stroke="#7d7d7d" stroke-width="1.1"/><rect x="585.0" y="705.8" width="27.8" height="29.8" fill="#c3c3c3" stroke="#7d7d7d" stroke-width="1.1"/><path d="M361.7 735.6H613.3" stroke="#9a9a9a" stroke-width="1.6"/><text class="v" style="font-size:13.4px" x="362.4" y="704.7">6.6</text><text class="v" style="font-size:13.4px" x="472.9" y="635.8">23.7</text>
<rect x="660.7" y="670.4" width="27.6" height="67.0" fill="#c3c3c3" stroke="#7d7d7d" stroke-width="1.1"/><rect x="688.3" y="638.3" width="27.6" height="99.1" fill="#c4fd6c" stroke="#7c9a52" stroke-width="1.1"/><rect x="715.9" y="638.3" width="27.6" height="99.1" fill="#c4fd6c" stroke="#7c9a52" stroke-width="1.1"/><rect x="743.6" y="638.8" width="27.6" height="98.6" fill="#c4fd6c" stroke="#7c9a52" stroke-width="1.1"/><rect x="771.2" y="636.8" width="27.6" height="100.6" fill="#c4fd6c" stroke="#7c9a52" stroke-width="1.1"/><rect x="798.8" y="637.8" width="27.6" height="99.6" fill="#c4fd6c" stroke="#7c9a52" stroke-width="1.1"/><rect x="826.4" y="636.8" width="27.6" height="100.6" fill="#c4fd6c" stroke="#7c9a52" stroke-width="1.1"/><rect x="854.1" y="638.3" width="27.6" height="99.1" fill="#c4fd6c" stroke="#7c9a52" stroke-width="1.1"/><rect x="881.7" y="667.5" width="27.6" height="69.9" fill="#c3c3c3" stroke="#7d7d7d" stroke-width="1.1"/><path d="M660.2 737.4H909.8" stroke="#9a9a9a" stroke-width="1.6"/><text class="v" style="font-size:14.4px" x="661.0" y="666.5">16.3</text><text class="v" style="font-size:14.4px" x="796.3" y="634.3">24.2</text>
<rect x="945.1" y="647.8" width="27.6" height="90.4" fill="#c4fd6c" stroke="#7c9a52" stroke-width="1.1"/><rect x="972.7" y="639.2" width="27.6" height="99.0" fill="#c4fd6c" stroke="#7c9a52" stroke-width="1.1"/><rect x="1000.3" y="638.3" width="27.6" height="99.9" fill="#c4fd6c" stroke="#7c9a52" stroke-width="1.1"/><rect x="1027.9" y="645.1" width="27.6" height="93.1" fill="#c4fd6c" stroke="#7c9a52" stroke-width="1.1"/><rect x="1055.5" y="641.7" width="27.6" height="96.5" fill="#c4fd6c" stroke="#7c9a52" stroke-width="1.1"/><rect x="1083.1" y="643.6" width="27.6" height="94.6" fill="#c4fd6c" stroke="#7c9a52" stroke-width="1.1"/><rect x="1110.7" y="638.3" width="27.6" height="99.9" fill="#c4fd6c" stroke="#7c9a52" stroke-width="1.1"/><rect x="1138.3" y="640.0" width="27.6" height="98.2" fill="#c4fd6c" stroke="#7c9a52" stroke-width="1.1"/><rect x="1165.9" y="647.8" width="27.6" height="90.4" fill="#c4fd6c" stroke="#7c9a52" stroke-width="1.1"/><path d="M944.6 738.2H1194.0" stroke="#9a9a9a" stroke-width="1.6"/><text class="v" style="font-size:14.4px" x="945.0" y="643.9">25.7</text><text class="v" style="font-size:14.4px" x="1000.5" y="634.3">28.3</text>
</svg>
</body></html>
